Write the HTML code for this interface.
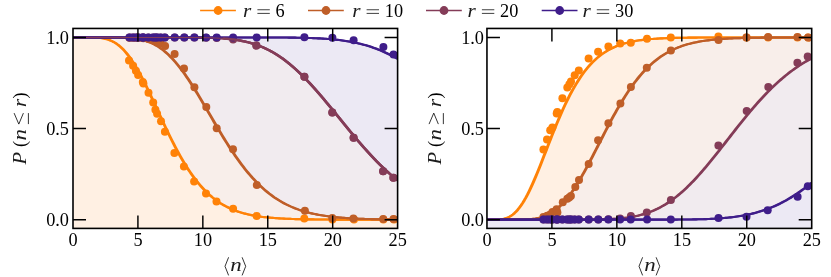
<!DOCTYPE html>
<html><head><meta charset="utf-8"><title>chart</title>
<style>
html,body{margin:0;padding:0;background:#fff;}
body{width:831px;height:277px;overflow:hidden;position:relative;}
svg{display:block;position:absolute;left:0;top:0;will-change:transform;}
.t{font-family:"Liberation Serif",serif;font-size:18.3px;fill:#000;}
.i{font-style:italic;fill:#1c1c1c;}
</style></head><body>
<svg width="831" height="277" viewBox="0 0 831 277">
<rect width="100%" height="100%" fill="#fff"/>
<defs>
<clipPath id="c0"><rect x="73.0" y="28.45" width="324.60" height="199.95"/></clipPath>
<clipPath id="c1"><rect x="486.95" y="28.45" width="324.75" height="199.95"/></clipPath>
</defs>
<g clip-path="url(#c0)">
<polygon fill="#ece9f4" points="73.00,37.45 74.62,37.45 76.25,37.45 77.87,37.45 79.49,37.45 81.11,37.45 82.74,37.45 84.36,37.45 85.98,37.45 87.61,37.45 89.23,37.45 90.85,37.45 92.48,37.45 94.10,37.45 95.72,37.45 97.34,37.45 98.97,37.45 100.59,37.45 102.21,37.45 103.84,37.45 105.46,37.45 107.08,37.45 108.71,37.45 110.33,37.45 111.95,37.45 113.58,37.45 115.20,37.45 116.82,37.45 118.44,37.45 120.07,37.45 121.69,37.45 123.31,37.45 124.94,37.45 126.56,37.45 128.18,37.45 129.81,37.45 131.43,37.45 133.05,37.45 134.67,37.45 136.30,37.45 137.92,37.45 139.54,37.45 141.17,37.45 142.79,37.45 144.41,37.45 146.04,37.45 147.66,37.45 149.28,37.45 150.90,37.45 152.53,37.45 154.15,37.45 155.77,37.45 157.40,37.45 159.02,37.45 160.64,37.45 162.26,37.45 163.89,37.45 165.51,37.45 167.13,37.45 168.76,37.45 170.38,37.45 172.00,37.45 173.63,37.45 175.25,37.45 176.87,37.45 178.50,37.45 180.12,37.45 181.74,37.45 183.36,37.45 184.99,37.45 186.61,37.45 188.23,37.45 189.86,37.45 191.48,37.45 193.10,37.45 194.72,37.45 196.35,37.45 197.97,37.45 199.59,37.45 201.22,37.45 202.84,37.45 204.46,37.45 206.09,37.45 207.71,37.45 209.33,37.45 210.96,37.45 212.58,37.45 214.20,37.45 215.82,37.45 217.45,37.45 219.07,37.45 220.69,37.45 222.32,37.45 223.94,37.45 225.56,37.45 227.19,37.45 228.81,37.45 230.43,37.45 232.05,37.45 233.68,37.45 235.30,37.45 236.92,37.45 238.55,37.45 240.17,37.45 241.79,37.45 243.41,37.45 245.04,37.45 246.66,37.45 248.28,37.45 249.91,37.45 251.53,37.46 253.15,37.46 254.78,37.46 256.40,37.46 258.02,37.46 259.64,37.46 261.27,37.46 262.89,37.47 264.51,37.47 266.14,37.47 267.76,37.47 269.38,37.48 271.01,37.48 272.63,37.49 274.25,37.49 275.88,37.50 277.50,37.51 279.12,37.51 280.74,37.52 282.37,37.53 283.99,37.54 285.61,37.56 287.24,37.57 288.86,37.58 290.48,37.60 292.11,37.62 293.73,37.64 295.35,37.66 296.97,37.69 298.60,37.72 300.22,37.75 301.84,37.78 303.47,37.82 305.09,37.86 306.71,37.90 308.34,37.95 309.96,38.00 311.58,38.06 313.20,38.12 314.83,38.18 316.45,38.25 318.07,38.33 319.70,38.42 321.32,38.51 322.94,38.60 324.56,38.71 326.19,38.82 327.81,38.94 329.43,39.07 331.06,39.21 332.68,39.36 334.30,39.52 335.93,39.69 337.55,39.87 339.17,40.06 340.80,40.26 342.42,40.48 344.04,40.71 345.66,40.95 347.29,41.21 348.91,41.48 350.53,41.76 352.16,42.07 353.78,42.39 355.40,42.72 357.03,43.07 358.65,43.44 360.27,43.83 361.89,44.24 363.52,44.67 365.14,45.11 366.76,45.58 368.39,46.07 370.01,46.58 371.63,47.11 373.26,47.66 374.88,48.24 376.50,48.84 378.12,49.46 379.75,50.10 381.37,50.77 382.99,51.46 384.62,52.18 386.24,52.92 387.86,53.69 389.49,54.48 391.11,55.30 392.73,56.14 394.35,57.01 395.98,57.91 397.60,58.83 397.6,230.4 73.0,230.4"/>
<polygon fill="#f1ebef" points="73.00,37.45 74.62,37.45 76.25,37.45 77.87,37.45 79.49,37.45 81.11,37.45 82.74,37.45 84.36,37.45 85.98,37.45 87.61,37.45 89.23,37.45 90.85,37.45 92.48,37.45 94.10,37.45 95.72,37.45 97.34,37.45 98.97,37.45 100.59,37.45 102.21,37.45 103.84,37.45 105.46,37.45 107.08,37.45 108.71,37.45 110.33,37.45 111.95,37.45 113.58,37.45 115.20,37.45 116.82,37.45 118.44,37.45 120.07,37.45 121.69,37.45 123.31,37.45 124.94,37.45 126.56,37.45 128.18,37.45 129.81,37.45 131.43,37.45 133.05,37.45 134.67,37.45 136.30,37.45 137.92,37.45 139.54,37.45 141.17,37.45 142.79,37.45 144.41,37.45 146.04,37.45 147.66,37.45 149.28,37.45 150.90,37.45 152.53,37.45 154.15,37.45 155.77,37.45 157.40,37.45 159.02,37.45 160.64,37.45 162.26,37.45 163.89,37.45 165.51,37.45 167.13,37.45 168.76,37.45 170.38,37.45 172.00,37.46 173.63,37.46 175.25,37.46 176.87,37.46 178.50,37.46 180.12,37.47 181.74,37.47 183.36,37.47 184.99,37.48 186.61,37.48 188.23,37.49 189.86,37.50 191.48,37.51 193.10,37.52 194.72,37.54 196.35,37.55 197.97,37.57 199.59,37.59 201.22,37.62 202.84,37.64 204.46,37.67 206.09,37.71 207.71,37.75 209.33,37.80 210.96,37.85 212.58,37.91 214.20,37.97 215.82,38.04 217.45,38.12 219.07,38.21 220.69,38.31 222.32,38.42 223.94,38.55 225.56,38.68 227.19,38.83 228.81,38.99 230.43,39.16 232.05,39.35 233.68,39.56 235.30,39.79 236.92,40.03 238.55,40.29 240.17,40.58 241.79,40.89 243.41,41.22 245.04,41.57 246.66,41.95 248.28,42.35 249.91,42.79 251.53,43.25 253.15,43.74 254.78,44.26 256.40,44.81 258.02,45.39 259.64,46.00 261.27,46.65 262.89,47.34 264.51,48.06 266.14,48.81 267.76,49.60 269.38,50.43 271.01,51.30 272.63,52.20 274.25,53.14 275.88,54.12 277.50,55.14 279.12,56.20 280.74,57.30 282.37,58.44 283.99,59.62 285.61,60.83 287.24,62.09 288.86,63.38 290.48,64.71 292.11,66.08 293.73,67.49 295.35,68.93 296.97,70.41 298.60,71.93 300.22,73.48 301.84,75.06 303.47,76.68 305.09,78.33 306.71,80.00 308.34,81.71 309.96,83.45 311.58,85.21 313.20,87.00 314.83,88.81 316.45,90.64 318.07,92.50 319.70,94.38 321.32,96.27 322.94,98.19 324.56,100.11 326.19,102.06 327.81,104.01 329.43,105.98 331.06,107.95 332.68,109.94 334.30,111.92 335.93,113.92 337.55,115.92 339.17,117.91 340.80,119.91 342.42,121.91 344.04,123.90 345.66,125.89 347.29,127.88 348.91,129.85 350.53,131.82 352.16,133.78 353.78,135.72 355.40,137.66 357.03,139.58 358.65,141.48 360.27,143.37 361.89,145.24 363.52,147.09 365.14,148.93 366.76,150.74 368.39,152.53 370.01,154.30 371.63,156.05 373.26,157.77 374.88,159.47 376.50,161.15 378.12,162.80 379.75,164.42 381.37,166.01 382.99,167.58 384.62,169.13 386.24,170.64 387.86,172.13 389.49,173.58 391.11,175.01 392.73,176.41 394.35,177.78 395.98,179.12 397.60,180.44 397.6,230.4 73.0,230.4"/>
<polygon fill="#f8eeea" points="73.00,37.45 74.62,37.45 76.25,37.45 77.87,37.45 79.49,37.45 81.11,37.45 82.74,37.45 84.36,37.45 85.98,37.45 87.61,37.45 89.23,37.45 90.85,37.45 92.48,37.45 94.10,37.45 95.72,37.45 97.34,37.45 98.97,37.45 100.59,37.45 102.21,37.45 103.84,37.45 105.46,37.46 107.08,37.46 108.71,37.46 110.33,37.47 111.95,37.48 113.58,37.49 115.20,37.50 116.82,37.52 118.44,37.55 120.07,37.58 121.69,37.63 123.31,37.68 124.94,37.75 126.56,37.83 128.18,37.93 129.81,38.05 131.43,38.19 133.05,38.35 134.67,38.55 136.30,38.78 137.92,39.04 139.54,39.34 141.17,39.68 142.79,40.07 144.41,40.51 146.04,41.00 147.66,41.55 149.28,42.16 150.90,42.83 152.53,43.57 154.15,44.37 155.77,45.25 157.40,46.20 159.02,47.22 160.64,48.33 162.26,49.51 163.89,50.77 165.51,52.12 167.13,53.55 168.76,55.06 170.38,56.65 172.00,58.32 173.63,60.07 175.25,61.91 176.87,63.82 178.50,65.81 180.12,67.87 181.74,70.00 183.36,72.20 184.99,74.47 186.61,76.80 188.23,79.19 189.86,81.64 191.48,84.13 193.10,86.67 194.72,89.26 196.35,91.89 197.97,94.55 199.59,97.24 201.22,99.96 202.84,102.69 204.46,105.45 206.09,108.22 207.71,110.99 209.33,113.78 210.96,116.56 212.58,119.33 214.20,122.10 215.82,124.86 217.45,127.60 219.07,130.32 220.69,133.02 222.32,135.70 223.94,138.34 225.56,140.96 227.19,143.53 228.81,146.08 230.43,148.58 232.05,151.04 233.68,153.46 235.30,155.83 236.92,158.15 238.55,160.43 240.17,162.66 241.79,164.83 243.41,166.96 245.04,169.03 246.66,171.05 248.28,173.01 249.91,174.92 251.53,176.78 253.15,178.59 254.78,180.33 256.40,182.03 258.02,183.67 259.64,185.26 261.27,186.80 262.89,188.28 264.51,189.71 266.14,191.10 267.76,192.43 269.38,193.71 271.01,194.95 272.63,196.14 274.25,197.28 275.88,198.37 277.50,199.43 279.12,200.44 280.74,201.40 282.37,202.33 283.99,203.22 285.61,204.07 287.24,204.88 288.86,205.66 290.48,206.40 292.11,207.10 293.73,207.78 295.35,208.42 296.97,209.03 298.60,209.62 300.22,210.17 301.84,210.70 303.47,211.20 305.09,211.68 306.71,212.13 308.34,212.56 309.96,212.97 311.58,213.36 313.20,213.73 314.83,214.07 316.45,214.40 318.07,214.71 319.70,215.01 321.32,215.29 322.94,215.55 324.56,215.80 326.19,216.04 327.81,216.26 329.43,216.47 331.06,216.66 332.68,216.85 334.30,217.03 335.93,217.19 337.55,217.35 339.17,217.49 340.80,217.63 342.42,217.76 344.04,217.88 345.66,218.00 347.29,218.10 348.91,218.20 350.53,218.30 352.16,218.39 353.78,218.47 355.40,218.55 357.03,218.62 358.65,218.69 360.27,218.76 361.89,218.82 363.52,218.87 365.14,218.93 366.76,218.98 368.39,219.02 370.01,219.06 371.63,219.11 373.26,219.14 374.88,219.18 376.50,219.21 378.12,219.24 379.75,219.27 381.37,219.30 382.99,219.32 384.62,219.35 386.24,219.37 387.86,219.39 389.49,219.41 391.11,219.42 392.73,219.44 394.35,219.45 395.98,219.47 397.60,219.48 397.6,230.4 73.0,230.4"/>
<polygon fill="#fff0e3" points="73.00,37.45 74.62,37.45 76.25,37.45 77.87,37.45 79.49,37.45 81.11,37.45 82.74,37.45 84.36,37.45 85.98,37.46 87.61,37.46 89.23,37.47 90.85,37.49 92.48,37.52 94.10,37.57 95.72,37.64 97.34,37.73 98.97,37.86 100.59,38.03 102.21,38.26 103.84,38.54 105.46,38.88 107.08,39.31 108.71,39.82 110.33,40.43 111.95,41.14 113.58,41.96 115.20,42.90 116.82,43.97 118.44,45.17 120.07,46.50 121.69,47.97 123.31,49.58 124.94,51.34 126.56,53.23 128.18,55.27 129.81,57.45 131.43,59.77 133.05,62.21 134.67,64.79 136.30,67.48 137.92,70.29 139.54,73.21 141.17,76.23 142.79,79.34 144.41,82.53 146.04,85.79 147.66,89.12 149.28,92.50 150.90,95.93 152.53,99.40 154.15,102.89 155.77,106.39 157.40,109.91 159.02,113.43 160.64,116.94 162.26,120.43 163.89,123.90 165.51,127.34 167.13,130.74 168.76,134.09 170.38,137.40 172.00,140.65 173.63,143.85 175.25,146.98 176.87,150.04 178.50,153.03 180.12,155.95 181.74,158.79 183.36,161.55 184.99,164.24 186.61,166.84 188.23,169.36 189.86,171.79 191.48,174.15 193.10,176.42 194.72,178.60 196.35,180.71 197.97,182.73 199.59,184.67 201.22,186.54 202.84,188.32 204.46,190.03 206.09,191.67 207.71,193.23 209.33,194.72 210.96,196.14 212.58,197.49 214.20,198.78 215.82,200.01 217.45,201.17 219.07,202.28 220.69,203.33 222.32,204.32 223.94,205.26 225.56,206.15 227.19,206.99 228.81,207.79 230.43,208.54 232.05,209.25 233.68,209.92 235.30,210.55 236.92,211.14 238.55,211.70 240.17,212.23 241.79,212.72 243.41,213.19 245.04,213.62 246.66,214.03 248.28,214.41 249.91,214.77 251.53,215.11 253.15,215.43 254.78,215.72 256.40,216.00 258.02,216.25 259.64,216.49 261.27,216.72 262.89,216.93 264.51,217.13 266.14,217.31 267.76,217.48 269.38,217.64 271.01,217.78 272.63,217.92 274.25,218.05 275.88,218.17 277.50,218.28 279.12,218.38 280.74,218.48 282.37,218.57 283.99,218.65 285.61,218.72 287.24,218.79 288.86,218.86 290.48,218.92 292.11,218.98 293.73,219.03 295.35,219.08 296.97,219.12 298.60,219.16 300.22,219.20 301.84,219.24 303.47,219.27 305.09,219.30 306.71,219.33 308.34,219.35 309.96,219.38 311.58,219.40 313.20,219.42 314.83,219.44 316.45,219.46 318.07,219.47 319.70,219.49 321.32,219.50 322.94,219.51 324.56,219.52 326.19,219.53 327.81,219.54 329.43,219.55 331.06,219.56 332.68,219.57 334.30,219.57 335.93,219.58 337.55,219.59 339.17,219.59 340.80,219.60 342.42,219.60 344.04,219.61 345.66,219.61 347.29,219.61 348.91,219.62 350.53,219.62 352.16,219.62 353.78,219.62 355.40,219.63 357.03,219.63 358.65,219.63 360.27,219.63 361.89,219.63 363.52,219.63 365.14,219.64 366.76,219.64 368.39,219.64 370.01,219.64 371.63,219.64 373.26,219.64 374.88,219.64 376.50,219.64 378.12,219.64 379.75,219.64 381.37,219.64 382.99,219.64 384.62,219.65 386.24,219.65 387.86,219.65 389.49,219.65 391.11,219.65 392.73,219.65 394.35,219.65 395.98,219.65 397.60,219.65 397.6,230.4 73.0,230.4"/>
<g fill="none" stroke="#ff8207" stroke-width="2.1" stroke-linejoin="round"><polyline transform="translate(-0.45,0)" points="73.00,37.45 74.62,37.45 76.25,37.45 77.87,37.45 79.49,37.45 81.11,37.45 82.74,37.45 84.36,37.45 85.98,37.46 87.61,37.46 89.23,37.47 90.85,37.49 92.48,37.52 94.10,37.57 95.72,37.64 97.34,37.73 98.97,37.86 100.59,38.03 102.21,38.26 103.84,38.54 105.46,38.88 107.08,39.31 108.71,39.82 110.33,40.43 111.95,41.14 113.58,41.96 115.20,42.90 116.82,43.97 118.44,45.17 120.07,46.50 121.69,47.97 123.31,49.58 124.94,51.34 126.56,53.23 128.18,55.27 129.81,57.45 131.43,59.77 133.05,62.21 134.67,64.79 136.30,67.48 137.92,70.29 139.54,73.21 141.17,76.23 142.79,79.34 144.41,82.53 146.04,85.79 147.66,89.12 149.28,92.50 150.90,95.93 152.53,99.40 154.15,102.89 155.77,106.39 157.40,109.91 159.02,113.43 160.64,116.94 162.26,120.43 163.89,123.90 165.51,127.34 167.13,130.74 168.76,134.09 170.38,137.40 172.00,140.65 173.63,143.85 175.25,146.98 176.87,150.04 178.50,153.03 180.12,155.95 181.74,158.79 183.36,161.55 184.99,164.24 186.61,166.84 188.23,169.36 189.86,171.79 191.48,174.15 193.10,176.42 194.72,178.60 196.35,180.71 197.97,182.73 199.59,184.67 201.22,186.54 202.84,188.32 204.46,190.03 206.09,191.67 207.71,193.23 209.33,194.72 210.96,196.14 212.58,197.49 214.20,198.78 215.82,200.01 217.45,201.17 219.07,202.28 220.69,203.33 222.32,204.32 223.94,205.26 225.56,206.15 227.19,206.99 228.81,207.79 230.43,208.54 232.05,209.25 233.68,209.92 235.30,210.55 236.92,211.14 238.55,211.70 240.17,212.23 241.79,212.72 243.41,213.19 245.04,213.62 246.66,214.03 248.28,214.41 249.91,214.77 251.53,215.11 253.15,215.43 254.78,215.72 256.40,216.00 258.02,216.25 259.64,216.49 261.27,216.72 262.89,216.93 264.51,217.13 266.14,217.31 267.76,217.48 269.38,217.64 271.01,217.78 272.63,217.92 274.25,218.05 275.88,218.17 277.50,218.28 279.12,218.38 280.74,218.48 282.37,218.57 283.99,218.65 285.61,218.72 287.24,218.79 288.86,218.86 290.48,218.92 292.11,218.98 293.73,219.03 295.35,219.08 296.97,219.12 298.60,219.16 300.22,219.20 301.84,219.24 303.47,219.27 305.09,219.30 306.71,219.33 308.34,219.35 309.96,219.38 311.58,219.40 313.20,219.42 314.83,219.44 316.45,219.46 318.07,219.47 319.70,219.49 321.32,219.50 322.94,219.51 324.56,219.52 326.19,219.53 327.81,219.54 329.43,219.55 331.06,219.56 332.68,219.57 334.30,219.57 335.93,219.58 337.55,219.59 339.17,219.59 340.80,219.60 342.42,219.60 344.04,219.61 345.66,219.61 347.29,219.61 348.91,219.62 350.53,219.62 352.16,219.62 353.78,219.62 355.40,219.63 357.03,219.63 358.65,219.63 360.27,219.63 361.89,219.63 363.52,219.63 365.14,219.64 366.76,219.64 368.39,219.64 370.01,219.64 371.63,219.64 373.26,219.64 374.88,219.64 376.50,219.64 378.12,219.64 379.75,219.64 381.37,219.64 382.99,219.64 384.62,219.65 386.24,219.65 387.86,219.65 389.49,219.65 391.11,219.65 392.73,219.65 394.35,219.65 395.98,219.65 397.60,219.65"/><polyline transform="translate(0.45,0)" points="73.00,37.45 74.62,37.45 76.25,37.45 77.87,37.45 79.49,37.45 81.11,37.45 82.74,37.45 84.36,37.45 85.98,37.46 87.61,37.46 89.23,37.47 90.85,37.49 92.48,37.52 94.10,37.57 95.72,37.64 97.34,37.73 98.97,37.86 100.59,38.03 102.21,38.26 103.84,38.54 105.46,38.88 107.08,39.31 108.71,39.82 110.33,40.43 111.95,41.14 113.58,41.96 115.20,42.90 116.82,43.97 118.44,45.17 120.07,46.50 121.69,47.97 123.31,49.58 124.94,51.34 126.56,53.23 128.18,55.27 129.81,57.45 131.43,59.77 133.05,62.21 134.67,64.79 136.30,67.48 137.92,70.29 139.54,73.21 141.17,76.23 142.79,79.34 144.41,82.53 146.04,85.79 147.66,89.12 149.28,92.50 150.90,95.93 152.53,99.40 154.15,102.89 155.77,106.39 157.40,109.91 159.02,113.43 160.64,116.94 162.26,120.43 163.89,123.90 165.51,127.34 167.13,130.74 168.76,134.09 170.38,137.40 172.00,140.65 173.63,143.85 175.25,146.98 176.87,150.04 178.50,153.03 180.12,155.95 181.74,158.79 183.36,161.55 184.99,164.24 186.61,166.84 188.23,169.36 189.86,171.79 191.48,174.15 193.10,176.42 194.72,178.60 196.35,180.71 197.97,182.73 199.59,184.67 201.22,186.54 202.84,188.32 204.46,190.03 206.09,191.67 207.71,193.23 209.33,194.72 210.96,196.14 212.58,197.49 214.20,198.78 215.82,200.01 217.45,201.17 219.07,202.28 220.69,203.33 222.32,204.32 223.94,205.26 225.56,206.15 227.19,206.99 228.81,207.79 230.43,208.54 232.05,209.25 233.68,209.92 235.30,210.55 236.92,211.14 238.55,211.70 240.17,212.23 241.79,212.72 243.41,213.19 245.04,213.62 246.66,214.03 248.28,214.41 249.91,214.77 251.53,215.11 253.15,215.43 254.78,215.72 256.40,216.00 258.02,216.25 259.64,216.49 261.27,216.72 262.89,216.93 264.51,217.13 266.14,217.31 267.76,217.48 269.38,217.64 271.01,217.78 272.63,217.92 274.25,218.05 275.88,218.17 277.50,218.28 279.12,218.38 280.74,218.48 282.37,218.57 283.99,218.65 285.61,218.72 287.24,218.79 288.86,218.86 290.48,218.92 292.11,218.98 293.73,219.03 295.35,219.08 296.97,219.12 298.60,219.16 300.22,219.20 301.84,219.24 303.47,219.27 305.09,219.30 306.71,219.33 308.34,219.35 309.96,219.38 311.58,219.40 313.20,219.42 314.83,219.44 316.45,219.46 318.07,219.47 319.70,219.49 321.32,219.50 322.94,219.51 324.56,219.52 326.19,219.53 327.81,219.54 329.43,219.55 331.06,219.56 332.68,219.57 334.30,219.57 335.93,219.58 337.55,219.59 339.17,219.59 340.80,219.60 342.42,219.60 344.04,219.61 345.66,219.61 347.29,219.61 348.91,219.62 350.53,219.62 352.16,219.62 353.78,219.62 355.40,219.63 357.03,219.63 358.65,219.63 360.27,219.63 361.89,219.63 363.52,219.63 365.14,219.64 366.76,219.64 368.39,219.64 370.01,219.64 371.63,219.64 373.26,219.64 374.88,219.64 376.50,219.64 378.12,219.64 379.75,219.64 381.37,219.64 382.99,219.64 384.62,219.65 386.24,219.65 387.86,219.65 389.49,219.65 391.11,219.65 392.73,219.65 394.35,219.65 395.98,219.65 397.60,219.65"/></g>
<g fill="#ff8207"><circle cx="129.0" cy="60.4" r="4.0"/><circle cx="133.1" cy="65.7" r="4.0"/><circle cx="135.9" cy="70.7" r="4.0"/><circle cx="138.1" cy="75.1" r="4.0"/><circle cx="142.8" cy="81.9" r="4.0"/><circle cx="148.5" cy="92.7" r="4.0"/><circle cx="153.2" cy="102.4" r="4.0"/><circle cx="155.4" cy="109.8" r="4.0"/><circle cx="157.1" cy="113.7" r="4.0"/><circle cx="161.0" cy="121.3" r="4.0"/><circle cx="164.9" cy="131.7" r="4.0"/><circle cx="174.4" cy="153.0" r="4.0"/><circle cx="183.9" cy="166.6" r="4.0"/><circle cx="194.1" cy="181.6" r="4.0"/><circle cx="206.0" cy="193.6" r="4.0"/><circle cx="216.5" cy="201.5" r="4.0"/><circle cx="233.1" cy="208.7" r="4.0"/><circle cx="256.7" cy="216.0" r="4.0"/><circle cx="304.3" cy="218.4" r="4.0"/><circle cx="332.4" cy="219.6" r="4.0"/><circle cx="354.0" cy="219.6" r="4.0"/><circle cx="383.4" cy="219.6" r="4.0"/><circle cx="394.0" cy="219.6" r="4.0"/><circle cx="143.4" cy="83.6" r="4.0"/></g>
<g fill="none" stroke="#bf5e28" stroke-width="2.1" stroke-linejoin="round"><polyline transform="translate(-0.45,0)" points="73.00,37.45 74.62,37.45 76.25,37.45 77.87,37.45 79.49,37.45 81.11,37.45 82.74,37.45 84.36,37.45 85.98,37.45 87.61,37.45 89.23,37.45 90.85,37.45 92.48,37.45 94.10,37.45 95.72,37.45 97.34,37.45 98.97,37.45 100.59,37.45 102.21,37.45 103.84,37.45 105.46,37.46 107.08,37.46 108.71,37.46 110.33,37.47 111.95,37.48 113.58,37.49 115.20,37.50 116.82,37.52 118.44,37.55 120.07,37.58 121.69,37.63 123.31,37.68 124.94,37.75 126.56,37.83 128.18,37.93 129.81,38.05 131.43,38.19 133.05,38.35 134.67,38.55 136.30,38.78 137.92,39.04 139.54,39.34 141.17,39.68 142.79,40.07 144.41,40.51 146.04,41.00 147.66,41.55 149.28,42.16 150.90,42.83 152.53,43.57 154.15,44.37 155.77,45.25 157.40,46.20 159.02,47.22 160.64,48.33 162.26,49.51 163.89,50.77 165.51,52.12 167.13,53.55 168.76,55.06 170.38,56.65 172.00,58.32 173.63,60.07 175.25,61.91 176.87,63.82 178.50,65.81 180.12,67.87 181.74,70.00 183.36,72.20 184.99,74.47 186.61,76.80 188.23,79.19 189.86,81.64 191.48,84.13 193.10,86.67 194.72,89.26 196.35,91.89 197.97,94.55 199.59,97.24 201.22,99.96 202.84,102.69 204.46,105.45 206.09,108.22 207.71,110.99 209.33,113.78 210.96,116.56 212.58,119.33 214.20,122.10 215.82,124.86 217.45,127.60 219.07,130.32 220.69,133.02 222.32,135.70 223.94,138.34 225.56,140.96 227.19,143.53 228.81,146.08 230.43,148.58 232.05,151.04 233.68,153.46 235.30,155.83 236.92,158.15 238.55,160.43 240.17,162.66 241.79,164.83 243.41,166.96 245.04,169.03 246.66,171.05 248.28,173.01 249.91,174.92 251.53,176.78 253.15,178.59 254.78,180.33 256.40,182.03 258.02,183.67 259.64,185.26 261.27,186.80 262.89,188.28 264.51,189.71 266.14,191.10 267.76,192.43 269.38,193.71 271.01,194.95 272.63,196.14 274.25,197.28 275.88,198.37 277.50,199.43 279.12,200.44 280.74,201.40 282.37,202.33 283.99,203.22 285.61,204.07 287.24,204.88 288.86,205.66 290.48,206.40 292.11,207.10 293.73,207.78 295.35,208.42 296.97,209.03 298.60,209.62 300.22,210.17 301.84,210.70 303.47,211.20 305.09,211.68 306.71,212.13 308.34,212.56 309.96,212.97 311.58,213.36 313.20,213.73 314.83,214.07 316.45,214.40 318.07,214.71 319.70,215.01 321.32,215.29 322.94,215.55 324.56,215.80 326.19,216.04 327.81,216.26 329.43,216.47 331.06,216.66 332.68,216.85 334.30,217.03 335.93,217.19 337.55,217.35 339.17,217.49 340.80,217.63 342.42,217.76 344.04,217.88 345.66,218.00 347.29,218.10 348.91,218.20 350.53,218.30 352.16,218.39 353.78,218.47 355.40,218.55 357.03,218.62 358.65,218.69 360.27,218.76 361.89,218.82 363.52,218.87 365.14,218.93 366.76,218.98 368.39,219.02 370.01,219.06 371.63,219.11 373.26,219.14 374.88,219.18 376.50,219.21 378.12,219.24 379.75,219.27 381.37,219.30 382.99,219.32 384.62,219.35 386.24,219.37 387.86,219.39 389.49,219.41 391.11,219.42 392.73,219.44 394.35,219.45 395.98,219.47 397.60,219.48"/><polyline transform="translate(0.45,0)" points="73.00,37.45 74.62,37.45 76.25,37.45 77.87,37.45 79.49,37.45 81.11,37.45 82.74,37.45 84.36,37.45 85.98,37.45 87.61,37.45 89.23,37.45 90.85,37.45 92.48,37.45 94.10,37.45 95.72,37.45 97.34,37.45 98.97,37.45 100.59,37.45 102.21,37.45 103.84,37.45 105.46,37.46 107.08,37.46 108.71,37.46 110.33,37.47 111.95,37.48 113.58,37.49 115.20,37.50 116.82,37.52 118.44,37.55 120.07,37.58 121.69,37.63 123.31,37.68 124.94,37.75 126.56,37.83 128.18,37.93 129.81,38.05 131.43,38.19 133.05,38.35 134.67,38.55 136.30,38.78 137.92,39.04 139.54,39.34 141.17,39.68 142.79,40.07 144.41,40.51 146.04,41.00 147.66,41.55 149.28,42.16 150.90,42.83 152.53,43.57 154.15,44.37 155.77,45.25 157.40,46.20 159.02,47.22 160.64,48.33 162.26,49.51 163.89,50.77 165.51,52.12 167.13,53.55 168.76,55.06 170.38,56.65 172.00,58.32 173.63,60.07 175.25,61.91 176.87,63.82 178.50,65.81 180.12,67.87 181.74,70.00 183.36,72.20 184.99,74.47 186.61,76.80 188.23,79.19 189.86,81.64 191.48,84.13 193.10,86.67 194.72,89.26 196.35,91.89 197.97,94.55 199.59,97.24 201.22,99.96 202.84,102.69 204.46,105.45 206.09,108.22 207.71,110.99 209.33,113.78 210.96,116.56 212.58,119.33 214.20,122.10 215.82,124.86 217.45,127.60 219.07,130.32 220.69,133.02 222.32,135.70 223.94,138.34 225.56,140.96 227.19,143.53 228.81,146.08 230.43,148.58 232.05,151.04 233.68,153.46 235.30,155.83 236.92,158.15 238.55,160.43 240.17,162.66 241.79,164.83 243.41,166.96 245.04,169.03 246.66,171.05 248.28,173.01 249.91,174.92 251.53,176.78 253.15,178.59 254.78,180.33 256.40,182.03 258.02,183.67 259.64,185.26 261.27,186.80 262.89,188.28 264.51,189.71 266.14,191.10 267.76,192.43 269.38,193.71 271.01,194.95 272.63,196.14 274.25,197.28 275.88,198.37 277.50,199.43 279.12,200.44 280.74,201.40 282.37,202.33 283.99,203.22 285.61,204.07 287.24,204.88 288.86,205.66 290.48,206.40 292.11,207.10 293.73,207.78 295.35,208.42 296.97,209.03 298.60,209.62 300.22,210.17 301.84,210.70 303.47,211.20 305.09,211.68 306.71,212.13 308.34,212.56 309.96,212.97 311.58,213.36 313.20,213.73 314.83,214.07 316.45,214.40 318.07,214.71 319.70,215.01 321.32,215.29 322.94,215.55 324.56,215.80 326.19,216.04 327.81,216.26 329.43,216.47 331.06,216.66 332.68,216.85 334.30,217.03 335.93,217.19 337.55,217.35 339.17,217.49 340.80,217.63 342.42,217.76 344.04,217.88 345.66,218.00 347.29,218.10 348.91,218.20 350.53,218.30 352.16,218.39 353.78,218.47 355.40,218.55 357.03,218.62 358.65,218.69 360.27,218.76 361.89,218.82 363.52,218.87 365.14,218.93 366.76,218.98 368.39,219.02 370.01,219.06 371.63,219.11 373.26,219.14 374.88,219.18 376.50,219.21 378.12,219.24 379.75,219.27 381.37,219.30 382.99,219.32 384.62,219.35 386.24,219.37 387.86,219.39 389.49,219.41 391.11,219.42 392.73,219.44 394.35,219.45 395.98,219.47 397.60,219.48"/></g>
<g fill="#bf5e28"><circle cx="129.5" cy="37.8" r="4.0"/><circle cx="133.1" cy="37.8" r="4.0"/><circle cx="136.2" cy="37.8" r="4.0"/><circle cx="138.4" cy="37.7" r="4.0"/><circle cx="142.7" cy="38.1" r="4.0"/><circle cx="148.4" cy="38.9" r="4.0"/><circle cx="153.1" cy="40.2" r="4.0"/><circle cx="155.4" cy="41.1" r="4.0"/><circle cx="157.1" cy="41.7" r="4.0"/><circle cx="160.6" cy="43.4" r="4.0"/><circle cx="165.1" cy="45.9" r="4.0"/><circle cx="174.6" cy="53.9" r="4.0"/><circle cx="184.0" cy="68.4" r="4.0"/><circle cx="194.4" cy="87.2" r="4.0"/><circle cx="206.3" cy="106.9" r="4.0"/><circle cx="216.7" cy="128.2" r="4.0"/><circle cx="233.0" cy="149.2" r="4.0"/><circle cx="256.8" cy="185.1" r="4.0"/><circle cx="304.9" cy="210.8" r="4.0"/><circle cx="332.3" cy="217.9" r="4.0"/><circle cx="353.4" cy="218.4" r="4.0"/><circle cx="383.2" cy="219.0" r="4.0"/><circle cx="393.5" cy="219.0" r="4.0"/><circle cx="143.4" cy="38.2" r="4.0"/></g>
<g fill="none" stroke="#843c58" stroke-width="2.1" stroke-linejoin="round"><polyline transform="translate(-0.45,0)" points="73.00,37.45 74.62,37.45 76.25,37.45 77.87,37.45 79.49,37.45 81.11,37.45 82.74,37.45 84.36,37.45 85.98,37.45 87.61,37.45 89.23,37.45 90.85,37.45 92.48,37.45 94.10,37.45 95.72,37.45 97.34,37.45 98.97,37.45 100.59,37.45 102.21,37.45 103.84,37.45 105.46,37.45 107.08,37.45 108.71,37.45 110.33,37.45 111.95,37.45 113.58,37.45 115.20,37.45 116.82,37.45 118.44,37.45 120.07,37.45 121.69,37.45 123.31,37.45 124.94,37.45 126.56,37.45 128.18,37.45 129.81,37.45 131.43,37.45 133.05,37.45 134.67,37.45 136.30,37.45 137.92,37.45 139.54,37.45 141.17,37.45 142.79,37.45 144.41,37.45 146.04,37.45 147.66,37.45 149.28,37.45 150.90,37.45 152.53,37.45 154.15,37.45 155.77,37.45 157.40,37.45 159.02,37.45 160.64,37.45 162.26,37.45 163.89,37.45 165.51,37.45 167.13,37.45 168.76,37.45 170.38,37.45 172.00,37.46 173.63,37.46 175.25,37.46 176.87,37.46 178.50,37.46 180.12,37.47 181.74,37.47 183.36,37.47 184.99,37.48 186.61,37.48 188.23,37.49 189.86,37.50 191.48,37.51 193.10,37.52 194.72,37.54 196.35,37.55 197.97,37.57 199.59,37.59 201.22,37.62 202.84,37.64 204.46,37.67 206.09,37.71 207.71,37.75 209.33,37.80 210.96,37.85 212.58,37.91 214.20,37.97 215.82,38.04 217.45,38.12 219.07,38.21 220.69,38.31 222.32,38.42 223.94,38.55 225.56,38.68 227.19,38.83 228.81,38.99 230.43,39.16 232.05,39.35 233.68,39.56 235.30,39.79 236.92,40.03 238.55,40.29 240.17,40.58 241.79,40.89 243.41,41.22 245.04,41.57 246.66,41.95 248.28,42.35 249.91,42.79 251.53,43.25 253.15,43.74 254.78,44.26 256.40,44.81 258.02,45.39 259.64,46.00 261.27,46.65 262.89,47.34 264.51,48.06 266.14,48.81 267.76,49.60 269.38,50.43 271.01,51.30 272.63,52.20 274.25,53.14 275.88,54.12 277.50,55.14 279.12,56.20 280.74,57.30 282.37,58.44 283.99,59.62 285.61,60.83 287.24,62.09 288.86,63.38 290.48,64.71 292.11,66.08 293.73,67.49 295.35,68.93 296.97,70.41 298.60,71.93 300.22,73.48 301.84,75.06 303.47,76.68 305.09,78.33 306.71,80.00 308.34,81.71 309.96,83.45 311.58,85.21 313.20,87.00 314.83,88.81 316.45,90.64 318.07,92.50 319.70,94.38 321.32,96.27 322.94,98.19 324.56,100.11 326.19,102.06 327.81,104.01 329.43,105.98 331.06,107.95 332.68,109.94 334.30,111.92 335.93,113.92 337.55,115.92 339.17,117.91 340.80,119.91 342.42,121.91 344.04,123.90 345.66,125.89 347.29,127.88 348.91,129.85 350.53,131.82 352.16,133.78 353.78,135.72 355.40,137.66 357.03,139.58 358.65,141.48 360.27,143.37 361.89,145.24 363.52,147.09 365.14,148.93 366.76,150.74 368.39,152.53 370.01,154.30 371.63,156.05 373.26,157.77 374.88,159.47 376.50,161.15 378.12,162.80 379.75,164.42 381.37,166.01 382.99,167.58 384.62,169.13 386.24,170.64 387.86,172.13 389.49,173.58 391.11,175.01 392.73,176.41 394.35,177.78 395.98,179.12 397.60,180.44"/><polyline transform="translate(0.45,0)" points="73.00,37.45 74.62,37.45 76.25,37.45 77.87,37.45 79.49,37.45 81.11,37.45 82.74,37.45 84.36,37.45 85.98,37.45 87.61,37.45 89.23,37.45 90.85,37.45 92.48,37.45 94.10,37.45 95.72,37.45 97.34,37.45 98.97,37.45 100.59,37.45 102.21,37.45 103.84,37.45 105.46,37.45 107.08,37.45 108.71,37.45 110.33,37.45 111.95,37.45 113.58,37.45 115.20,37.45 116.82,37.45 118.44,37.45 120.07,37.45 121.69,37.45 123.31,37.45 124.94,37.45 126.56,37.45 128.18,37.45 129.81,37.45 131.43,37.45 133.05,37.45 134.67,37.45 136.30,37.45 137.92,37.45 139.54,37.45 141.17,37.45 142.79,37.45 144.41,37.45 146.04,37.45 147.66,37.45 149.28,37.45 150.90,37.45 152.53,37.45 154.15,37.45 155.77,37.45 157.40,37.45 159.02,37.45 160.64,37.45 162.26,37.45 163.89,37.45 165.51,37.45 167.13,37.45 168.76,37.45 170.38,37.45 172.00,37.46 173.63,37.46 175.25,37.46 176.87,37.46 178.50,37.46 180.12,37.47 181.74,37.47 183.36,37.47 184.99,37.48 186.61,37.48 188.23,37.49 189.86,37.50 191.48,37.51 193.10,37.52 194.72,37.54 196.35,37.55 197.97,37.57 199.59,37.59 201.22,37.62 202.84,37.64 204.46,37.67 206.09,37.71 207.71,37.75 209.33,37.80 210.96,37.85 212.58,37.91 214.20,37.97 215.82,38.04 217.45,38.12 219.07,38.21 220.69,38.31 222.32,38.42 223.94,38.55 225.56,38.68 227.19,38.83 228.81,38.99 230.43,39.16 232.05,39.35 233.68,39.56 235.30,39.79 236.92,40.03 238.55,40.29 240.17,40.58 241.79,40.89 243.41,41.22 245.04,41.57 246.66,41.95 248.28,42.35 249.91,42.79 251.53,43.25 253.15,43.74 254.78,44.26 256.40,44.81 258.02,45.39 259.64,46.00 261.27,46.65 262.89,47.34 264.51,48.06 266.14,48.81 267.76,49.60 269.38,50.43 271.01,51.30 272.63,52.20 274.25,53.14 275.88,54.12 277.50,55.14 279.12,56.20 280.74,57.30 282.37,58.44 283.99,59.62 285.61,60.83 287.24,62.09 288.86,63.38 290.48,64.71 292.11,66.08 293.73,67.49 295.35,68.93 296.97,70.41 298.60,71.93 300.22,73.48 301.84,75.06 303.47,76.68 305.09,78.33 306.71,80.00 308.34,81.71 309.96,83.45 311.58,85.21 313.20,87.00 314.83,88.81 316.45,90.64 318.07,92.50 319.70,94.38 321.32,96.27 322.94,98.19 324.56,100.11 326.19,102.06 327.81,104.01 329.43,105.98 331.06,107.95 332.68,109.94 334.30,111.92 335.93,113.92 337.55,115.92 339.17,117.91 340.80,119.91 342.42,121.91 344.04,123.90 345.66,125.89 347.29,127.88 348.91,129.85 350.53,131.82 352.16,133.78 353.78,135.72 355.40,137.66 357.03,139.58 358.65,141.48 360.27,143.37 361.89,145.24 363.52,147.09 365.14,148.93 366.76,150.74 368.39,152.53 370.01,154.30 371.63,156.05 373.26,157.77 374.88,159.47 376.50,161.15 378.12,162.80 379.75,164.42 381.37,166.01 382.99,167.58 384.62,169.13 386.24,170.64 387.86,172.13 389.49,173.58 391.11,175.01 392.73,176.41 394.35,177.78 395.98,179.12 397.60,180.44"/></g>
<g fill="#843c58"><circle cx="129.5" cy="37.5" r="4.0"/><circle cx="133.1" cy="37.5" r="4.0"/><circle cx="136.2" cy="37.5" r="4.0"/><circle cx="138.4" cy="37.5" r="4.0"/><circle cx="142.7" cy="37.5" r="4.0"/><circle cx="148.4" cy="37.5" r="4.0"/><circle cx="153.1" cy="37.5" r="4.0"/><circle cx="155.4" cy="37.5" r="4.0"/><circle cx="157.1" cy="37.5" r="4.0"/><circle cx="160.6" cy="37.5" r="4.0"/><circle cx="164.8" cy="37.5" r="4.0"/><circle cx="174.7" cy="37.5" r="4.0"/><circle cx="184.3" cy="37.5" r="4.0"/><circle cx="194.4" cy="37.5" r="4.0"/><circle cx="206.1" cy="37.7" r="4.0"/><circle cx="216.7" cy="38.1" r="4.0"/><circle cx="233.1" cy="39.5" r="4.0"/><circle cx="256.4" cy="45.5" r="4.0"/><circle cx="304.4" cy="76.8" r="4.0"/><circle cx="332.3" cy="112.5" r="4.0"/><circle cx="353.6" cy="137.7" r="4.0"/><circle cx="383.1" cy="171.2" r="4.0"/><circle cx="393.4" cy="177.7" r="4.0"/><circle cx="143.4" cy="37.5" r="4.0"/></g>
<g fill="none" stroke="#3f1d8a" stroke-width="2.1" stroke-linejoin="round"><polyline transform="translate(-0.45,0)" points="73.00,37.45 74.62,37.45 76.25,37.45 77.87,37.45 79.49,37.45 81.11,37.45 82.74,37.45 84.36,37.45 85.98,37.45 87.61,37.45 89.23,37.45 90.85,37.45 92.48,37.45 94.10,37.45 95.72,37.45 97.34,37.45 98.97,37.45 100.59,37.45 102.21,37.45 103.84,37.45 105.46,37.45 107.08,37.45 108.71,37.45 110.33,37.45 111.95,37.45 113.58,37.45 115.20,37.45 116.82,37.45 118.44,37.45 120.07,37.45 121.69,37.45 123.31,37.45 124.94,37.45 126.56,37.45 128.18,37.45 129.81,37.45 131.43,37.45 133.05,37.45 134.67,37.45 136.30,37.45 137.92,37.45 139.54,37.45 141.17,37.45 142.79,37.45 144.41,37.45 146.04,37.45 147.66,37.45 149.28,37.45 150.90,37.45 152.53,37.45 154.15,37.45 155.77,37.45 157.40,37.45 159.02,37.45 160.64,37.45 162.26,37.45 163.89,37.45 165.51,37.45 167.13,37.45 168.76,37.45 170.38,37.45 172.00,37.45 173.63,37.45 175.25,37.45 176.87,37.45 178.50,37.45 180.12,37.45 181.74,37.45 183.36,37.45 184.99,37.45 186.61,37.45 188.23,37.45 189.86,37.45 191.48,37.45 193.10,37.45 194.72,37.45 196.35,37.45 197.97,37.45 199.59,37.45 201.22,37.45 202.84,37.45 204.46,37.45 206.09,37.45 207.71,37.45 209.33,37.45 210.96,37.45 212.58,37.45 214.20,37.45 215.82,37.45 217.45,37.45 219.07,37.45 220.69,37.45 222.32,37.45 223.94,37.45 225.56,37.45 227.19,37.45 228.81,37.45 230.43,37.45 232.05,37.45 233.68,37.45 235.30,37.45 236.92,37.45 238.55,37.45 240.17,37.45 241.79,37.45 243.41,37.45 245.04,37.45 246.66,37.45 248.28,37.45 249.91,37.45 251.53,37.46 253.15,37.46 254.78,37.46 256.40,37.46 258.02,37.46 259.64,37.46 261.27,37.46 262.89,37.47 264.51,37.47 266.14,37.47 267.76,37.47 269.38,37.48 271.01,37.48 272.63,37.49 274.25,37.49 275.88,37.50 277.50,37.51 279.12,37.51 280.74,37.52 282.37,37.53 283.99,37.54 285.61,37.56 287.24,37.57 288.86,37.58 290.48,37.60 292.11,37.62 293.73,37.64 295.35,37.66 296.97,37.69 298.60,37.72 300.22,37.75 301.84,37.78 303.47,37.82 305.09,37.86 306.71,37.90 308.34,37.95 309.96,38.00 311.58,38.06 313.20,38.12 314.83,38.18 316.45,38.25 318.07,38.33 319.70,38.42 321.32,38.51 322.94,38.60 324.56,38.71 326.19,38.82 327.81,38.94 329.43,39.07 331.06,39.21 332.68,39.36 334.30,39.52 335.93,39.69 337.55,39.87 339.17,40.06 340.80,40.26 342.42,40.48 344.04,40.71 345.66,40.95 347.29,41.21 348.91,41.48 350.53,41.76 352.16,42.07 353.78,42.39 355.40,42.72 357.03,43.07 358.65,43.44 360.27,43.83 361.89,44.24 363.52,44.67 365.14,45.11 366.76,45.58 368.39,46.07 370.01,46.58 371.63,47.11 373.26,47.66 374.88,48.24 376.50,48.84 378.12,49.46 379.75,50.10 381.37,50.77 382.99,51.46 384.62,52.18 386.24,52.92 387.86,53.69 389.49,54.48 391.11,55.30 392.73,56.14 394.35,57.01 395.98,57.91 397.60,58.83"/><polyline transform="translate(0.45,0)" points="73.00,37.45 74.62,37.45 76.25,37.45 77.87,37.45 79.49,37.45 81.11,37.45 82.74,37.45 84.36,37.45 85.98,37.45 87.61,37.45 89.23,37.45 90.85,37.45 92.48,37.45 94.10,37.45 95.72,37.45 97.34,37.45 98.97,37.45 100.59,37.45 102.21,37.45 103.84,37.45 105.46,37.45 107.08,37.45 108.71,37.45 110.33,37.45 111.95,37.45 113.58,37.45 115.20,37.45 116.82,37.45 118.44,37.45 120.07,37.45 121.69,37.45 123.31,37.45 124.94,37.45 126.56,37.45 128.18,37.45 129.81,37.45 131.43,37.45 133.05,37.45 134.67,37.45 136.30,37.45 137.92,37.45 139.54,37.45 141.17,37.45 142.79,37.45 144.41,37.45 146.04,37.45 147.66,37.45 149.28,37.45 150.90,37.45 152.53,37.45 154.15,37.45 155.77,37.45 157.40,37.45 159.02,37.45 160.64,37.45 162.26,37.45 163.89,37.45 165.51,37.45 167.13,37.45 168.76,37.45 170.38,37.45 172.00,37.45 173.63,37.45 175.25,37.45 176.87,37.45 178.50,37.45 180.12,37.45 181.74,37.45 183.36,37.45 184.99,37.45 186.61,37.45 188.23,37.45 189.86,37.45 191.48,37.45 193.10,37.45 194.72,37.45 196.35,37.45 197.97,37.45 199.59,37.45 201.22,37.45 202.84,37.45 204.46,37.45 206.09,37.45 207.71,37.45 209.33,37.45 210.96,37.45 212.58,37.45 214.20,37.45 215.82,37.45 217.45,37.45 219.07,37.45 220.69,37.45 222.32,37.45 223.94,37.45 225.56,37.45 227.19,37.45 228.81,37.45 230.43,37.45 232.05,37.45 233.68,37.45 235.30,37.45 236.92,37.45 238.55,37.45 240.17,37.45 241.79,37.45 243.41,37.45 245.04,37.45 246.66,37.45 248.28,37.45 249.91,37.45 251.53,37.46 253.15,37.46 254.78,37.46 256.40,37.46 258.02,37.46 259.64,37.46 261.27,37.46 262.89,37.47 264.51,37.47 266.14,37.47 267.76,37.47 269.38,37.48 271.01,37.48 272.63,37.49 274.25,37.49 275.88,37.50 277.50,37.51 279.12,37.51 280.74,37.52 282.37,37.53 283.99,37.54 285.61,37.56 287.24,37.57 288.86,37.58 290.48,37.60 292.11,37.62 293.73,37.64 295.35,37.66 296.97,37.69 298.60,37.72 300.22,37.75 301.84,37.78 303.47,37.82 305.09,37.86 306.71,37.90 308.34,37.95 309.96,38.00 311.58,38.06 313.20,38.12 314.83,38.18 316.45,38.25 318.07,38.33 319.70,38.42 321.32,38.51 322.94,38.60 324.56,38.71 326.19,38.82 327.81,38.94 329.43,39.07 331.06,39.21 332.68,39.36 334.30,39.52 335.93,39.69 337.55,39.87 339.17,40.06 340.80,40.26 342.42,40.48 344.04,40.71 345.66,40.95 347.29,41.21 348.91,41.48 350.53,41.76 352.16,42.07 353.78,42.39 355.40,42.72 357.03,43.07 358.65,43.44 360.27,43.83 361.89,44.24 363.52,44.67 365.14,45.11 366.76,45.58 368.39,46.07 370.01,46.58 371.63,47.11 373.26,47.66 374.88,48.24 376.50,48.84 378.12,49.46 379.75,50.10 381.37,50.77 382.99,51.46 384.62,52.18 386.24,52.92 387.86,53.69 389.49,54.48 391.11,55.30 392.73,56.14 394.35,57.01 395.98,57.91 397.60,58.83"/></g>
<g fill="#3f1d8a"><circle cx="129.5" cy="37.5" r="4.0"/><circle cx="133.1" cy="37.5" r="4.0"/><circle cx="136.2" cy="37.5" r="4.0"/><circle cx="138.4" cy="37.5" r="4.0"/><circle cx="142.7" cy="37.5" r="4.0"/><circle cx="148.4" cy="37.5" r="4.0"/><circle cx="153.1" cy="37.5" r="4.0"/><circle cx="155.4" cy="37.5" r="4.0"/><circle cx="157.1" cy="37.5" r="4.0"/><circle cx="160.6" cy="37.5" r="4.0"/><circle cx="164.8" cy="37.5" r="4.0"/><circle cx="174.7" cy="37.5" r="4.0"/><circle cx="184.3" cy="37.5" r="4.0"/><circle cx="194.4" cy="37.5" r="4.0"/><circle cx="206.1" cy="37.5" r="4.0"/><circle cx="216.7" cy="37.5" r="4.0"/><circle cx="233.1" cy="37.5" r="4.0"/><circle cx="256.7" cy="37.5" r="4.0"/><circle cx="304.4" cy="37.2" r="4.0"/><circle cx="332.4" cy="37.8" r="4.0"/><circle cx="353.6" cy="40.2" r="4.0"/><circle cx="383.4" cy="47.0" r="4.0"/><circle cx="393.5" cy="54.4" r="4.0"/><circle cx="143.4" cy="37.5" r="4.0"/></g>
<polyline fill="none" stroke="#843c58" stroke-width="1.1" points="73.00,37.45 74.62,37.45 76.25,37.45 77.87,37.45 79.49,37.45 81.11,37.45 82.74,37.45 84.36,37.45 85.98,37.45 87.61,37.45 89.23,37.45 90.85,37.45 92.48,37.45 94.10,37.45 95.72,37.45 97.34,37.45 98.97,37.45 100.59,37.45 102.21,37.45 103.84,37.45 105.46,37.45 107.08,37.45 108.71,37.45 110.33,37.45 111.95,37.45 113.58,37.45 115.20,37.45 116.82,37.45 118.44,37.45 120.07,37.45 121.69,37.45 123.31,37.45 124.94,37.45 126.56,37.45 128.18,37.45 129.81,37.45 131.43,37.45 133.05,37.45 134.67,37.45 136.30,37.45 137.92,37.45 139.54,37.45 141.17,37.45 142.79,37.45 144.41,37.45 146.04,37.45 147.66,37.45 149.28,37.45 150.90,37.45 152.53,37.45 154.15,37.45 155.77,37.45 157.40,37.45 159.02,37.45 160.64,37.45 162.26,37.45 163.89,37.45 165.51,37.45 167.13,37.45 168.76,37.45 170.38,37.45 172.00,37.46 173.63,37.46 175.25,37.46 176.87,37.46 178.50,37.46 180.12,37.47 181.74,37.47 183.36,37.47 184.99,37.48 186.61,37.48 188.23,37.49 189.86,37.50 191.48,37.51 193.10,37.52 194.72,37.54 196.35,37.55 197.97,37.57 199.59,37.59 201.22,37.62 202.84,37.64 204.46,37.67 206.09,37.71 207.71,37.75 209.33,37.80 210.96,37.85 212.58,37.91 214.20,37.97 215.82,38.04 217.45,38.12 219.07,38.21 220.69,38.31 222.32,38.42 223.94,38.55 225.56,38.68 227.19,38.83 228.81,38.99 230.43,39.16 232.05,39.35 233.68,39.56 235.30,39.79 236.92,40.03 238.55,40.29 240.17,40.58 241.79,40.89 243.41,41.22 245.04,41.57 246.66,41.95 248.28,42.35 249.91,42.79 251.53,43.25 253.15,43.74 254.78,44.26 256.40,44.81 258.02,45.39 259.64,46.00 261.27,46.65 262.89,47.34 264.51,48.06 266.14,48.81 267.76,49.60 269.38,50.43 271.01,51.30 272.63,52.20 274.25,53.14 275.88,54.12 277.50,55.14 279.12,56.20 280.74,57.30 282.37,58.44 283.99,59.62 285.61,60.83 287.24,62.09 288.86,63.38 290.48,64.71 292.11,66.08 293.73,67.49 295.35,68.93 296.97,70.41 298.60,71.93 300.22,73.48 301.84,75.06 303.47,76.68 305.09,78.33 306.71,80.00 308.34,81.71 309.96,83.45 311.58,85.21 313.20,87.00 314.83,88.81 316.45,90.64 318.07,92.50 319.70,94.38 321.32,96.27 322.94,98.19 324.56,100.11 326.19,102.06 327.81,104.01 329.43,105.98 331.06,107.95 332.68,109.94 334.30,111.92 335.93,113.92 337.55,115.92 339.17,117.91 340.80,119.91 342.42,121.91 344.04,123.90 345.66,125.89 347.29,127.88 348.91,129.85 350.53,131.82 352.16,133.78 353.78,135.72 355.40,137.66 357.03,139.58 358.65,141.48 360.27,143.37 361.89,145.24 363.52,147.09 365.14,148.93 366.76,150.74 368.39,152.53 370.01,154.30 371.63,156.05 373.26,157.77 374.88,159.47 376.50,161.15 378.12,162.80 379.75,164.42 381.37,166.01 382.99,167.58 384.62,169.13 386.24,170.64 387.86,172.13 389.49,173.58 391.11,175.01 392.73,176.41 394.35,177.78 395.98,179.12 397.60,180.44"/>
<polyline fill="none" stroke="#843c58" stroke-width="2.5" stroke-linecap="round" points="223.9,38.5 225.6,38.7 227.2,38.8 228.8,39.0 230.4,39.2 232.1,39.4 233.7,39.6 235.3,39.8 236.9,40.0 238.5,40.3 240.2,40.6 241.8,40.9 243.4,41.2 245.0,41.6 246.7,41.9 248.3,42.4 249.9,42.8 251.5,43.2 253.2,43.7 254.8,44.3 256.4,44.8 258.0,45.4 259.6,46.0 261.3,46.7 262.9,47.3 264.5,48.1 266.1,48.8 267.8,49.6 269.4,50.4 271.0,51.3 272.6,52.2 274.3,53.1 275.9,54.1 277.5,55.1 279.1,56.2 280.7,57.3 282.4,58.4 284.0,59.6 285.6,60.8 287.2,62.1 288.9,63.4 290.5,64.7 292.1,66.1 293.7,67.5 295.4,68.9 297.0,70.4 298.6,71.9 300.2,73.5 301.8,75.1 303.5,76.7 305.1,78.3 306.7,80.0 308.3,81.7 310.0,83.4 311.6,85.2 313.2,87.0 314.8,88.8 316.4,90.6 318.1,92.5 319.7,94.4 321.3,96.3 322.9,98.2 324.6,100.1 326.2,102.1 327.8,104.0 329.4,106.0 331.1,108.0 332.7,109.9 334.3,111.9 335.9,113.9 337.5,115.9 339.2,117.9 340.8,119.9 342.4,121.9 344.0,123.9 345.7,125.9 347.3,127.9 348.9,129.9 350.5,131.8 352.2,133.8 353.8,135.7 355.4,137.7 357.0,139.6 358.6,141.5 360.3,143.4 361.9,145.2 363.5,147.1 365.1,148.9 366.8,150.7 368.4,152.5 370.0,154.3 371.6,156.0 373.3,157.8 374.9,159.5 376.5,161.1 378.1,162.8 379.7,164.4 381.4,166.0 383.0,167.6 384.6,169.1 386.2,170.6 387.9,172.1 389.5,173.6 391.1,175.0 392.7,176.4 394.4,177.8 396.0,179.1 397.6,180.4"/>
<g fill="#843c58"><circle cx="256.4" cy="45.5" r="4.0"/><circle cx="304.4" cy="76.8" r="4.0"/><circle cx="332.3" cy="112.5" r="4.0"/><circle cx="353.6" cy="137.7" r="4.0"/><circle cx="383.1" cy="171.2" r="4.0"/><circle cx="393.4" cy="177.7" r="4.0"/></g>
</g>
<path d="M137.92 228.4v-13.0M137.92 28.45v13.0M202.84 228.4v-13.0M202.84 28.45v13.0M267.76 228.4v-13.0M267.76 28.45v13.0M332.68 228.4v-13.0M332.68 28.45v13.0M73.0 219.65h13.0M397.6 219.65h-13.0M73.0 128.55h13.0M397.6 128.55h-13.0M73.0 37.45h13.0M397.6 37.45h-13.0" stroke="#000" stroke-width="1.45" fill="none"/>
<rect x="73.0" y="28.45" width="324.60" height="199.95" fill="none" stroke="#000" stroke-width="1.6"/>
<text class="t" x="73.10" y="245.6" text-anchor="middle">0</text>
<text class="t" x="138.02" y="245.6" text-anchor="middle">5</text>
<text class="t" x="202.94" y="245.6" text-anchor="middle">10</text>
<text class="t" x="267.86" y="245.6" text-anchor="middle">15</text>
<text class="t" x="332.78" y="245.6" text-anchor="middle">20</text>
<text class="t" x="397.70" y="245.6" text-anchor="middle">25</text>
<text class="t" x="69.0" y="225.70" text-anchor="end">0.0</text>
<text class="t" x="69.0" y="134.60" text-anchor="end">0.5</text>
<text class="t" x="69.0" y="43.50" text-anchor="end">1.0</text>
<path d="M228.60 257.3l-3.6 9 3.6 9.1M242.10 257.3l3.6 9 -3.6 9.1" stroke="#000" stroke-width="0.8" fill="none" stroke-linejoin="miter"/>
<text class="t i" font-size="16.8" transform="translate(230.30,270.7) scale(1.25,1)">n</text>
<g transform="translate(26.00,164.1) rotate(-90)"><text class="t i" font-size="19.6" transform="translate(-0.4,0) scale(1.13,1)">P</text><text class="t" font-size="18.6" x="17.2" y="0">(</text><text class="t i" font-size="16.8" transform="translate(23.5,0) scale(1.25,1)">n</text><path d="M51.0 -11.9L40.0 -7.2L51.0 -2.6M40.0 2.4H51.0" stroke="#000" stroke-width="0.8" fill="none"/><text class="t i" font-size="17.8" transform="translate(57.2,0) scale(1.16,1)">r</text><text class="t" font-size="18.6" x="65.7" y="0">)</text></g>
<g clip-path="url(#c1)">
<polygon fill="#fff0e3" points="486.95,219.65 488.57,219.65 490.20,219.65 491.82,219.65 493.44,219.64 495.07,219.62 496.69,219.59 498.32,219.52 499.94,219.40 501.56,219.22 503.19,218.95 504.81,218.57 506.44,218.08 508.06,217.44 509.68,216.63 511.31,215.65 512.93,214.48 514.55,213.10 516.18,211.52 517.80,209.71 519.42,207.69 521.05,205.45 522.67,203.00 524.30,200.34 525.92,197.47 527.54,194.42 529.17,191.18 530.79,187.78 532.41,184.23 534.04,180.54 535.66,176.74 537.29,172.83 538.91,168.83 540.53,164.77 542.16,160.65 543.78,156.49 545.40,152.32 547.03,148.13 548.65,143.96 550.28,139.81 551.90,135.69 553.52,131.62 555.15,127.61 556.77,123.66 558.39,119.79 560.02,116.00 561.64,112.29 563.27,108.69 564.89,105.18 566.51,101.78 568.14,98.49 569.76,95.30 571.38,92.23 573.01,89.27 574.63,86.43 576.26,83.70 577.88,81.08 579.50,78.57 581.13,76.18 582.75,73.89 584.38,71.71 586.00,69.63 587.62,67.66 589.25,65.79 590.87,64.01 592.49,62.32 594.12,60.73 595.74,59.22 597.37,57.80 598.99,56.45 600.61,55.19 602.24,53.99 603.86,52.87 605.48,51.82 607.11,50.83 608.73,49.90 610.36,49.02 611.98,48.21 613.60,47.44 615.23,46.73 616.85,46.06 618.47,45.43 620.10,44.85 621.72,44.31 623.35,43.80 624.97,43.33 626.59,42.89 628.22,42.48 629.84,42.10 631.46,41.74 633.09,41.41 634.71,41.11 636.34,40.83 637.96,40.56 639.58,40.32 641.21,40.09 642.83,39.89 644.45,39.69 646.08,39.51 647.70,39.35 649.33,39.20 650.95,39.06 652.57,38.93 654.20,38.81 655.82,38.70 657.44,38.59 659.07,38.50 660.69,38.41 662.32,38.33 663.94,38.26 665.56,38.19 667.19,38.13 668.81,38.07 670.43,38.02 672.06,37.97 673.68,37.93 675.31,37.89 676.93,37.85 678.55,37.82 680.18,37.78 681.80,37.76 683.42,37.73 685.05,37.71 686.67,37.68 688.30,37.66 689.92,37.64 691.54,37.63 693.17,37.61 694.79,37.60 696.41,37.58 698.04,37.57 699.66,37.56 701.29,37.55 702.91,37.54 704.53,37.53 706.16,37.53 707.78,37.52 709.40,37.51 711.03,37.51 712.65,37.50 714.28,37.50 715.90,37.49 717.52,37.49 719.15,37.49 720.77,37.48 722.39,37.48 724.02,37.48 725.64,37.47 727.26,37.47 728.89,37.47 730.51,37.47 732.14,37.47 733.76,37.47 735.38,37.46 737.01,37.46 738.63,37.46 740.25,37.46 741.88,37.46 743.50,37.46 745.13,37.46 746.75,37.46 748.37,37.46 750.00,37.46 751.62,37.46 753.25,37.45 754.87,37.45 756.49,37.45 758.12,37.45 759.74,37.45 761.36,37.45 762.99,37.45 764.61,37.45 766.24,37.45 767.86,37.45 769.48,37.45 771.11,37.45 772.73,37.45 774.35,37.45 775.98,37.45 777.60,37.45 779.23,37.45 780.85,37.45 782.47,37.45 784.10,37.45 785.72,37.45 787.34,37.45 788.97,37.45 790.59,37.45 792.22,37.45 793.84,37.45 795.46,37.45 797.09,37.45 798.71,37.45 800.33,37.45 801.96,37.45 803.58,37.45 805.21,37.45 806.83,37.45 808.45,37.45 810.08,37.45 811.70,37.45 811.7,230.4 486.95,230.4"/>
<polygon fill="#f8eeea" points="486.95,219.65 488.57,219.65 490.20,219.65 491.82,219.65 493.44,219.65 495.07,219.65 496.69,219.65 498.32,219.65 499.94,219.65 501.56,219.65 503.19,219.65 504.81,219.65 506.44,219.65 508.06,219.65 509.68,219.65 511.31,219.64 512.93,219.64 514.55,219.63 516.18,219.62 517.80,219.61 519.42,219.59 521.05,219.56 522.67,219.52 524.30,219.47 525.92,219.40 527.54,219.31 529.17,219.20 530.79,219.07 532.41,218.90 534.04,218.69 535.66,218.45 537.29,218.15 538.91,217.80 540.53,217.40 542.16,216.93 543.78,216.39 545.40,215.78 547.03,215.09 548.65,214.31 550.28,213.44 551.90,212.48 553.52,211.42 555.15,210.26 556.77,209.00 558.39,207.63 560.02,206.15 561.64,204.56 563.27,202.86 564.89,201.05 566.51,199.13 568.14,197.11 569.76,194.98 571.38,192.75 573.01,190.42 574.63,187.99 576.26,185.47 577.88,182.87 579.50,180.18 581.13,177.42 582.75,174.58 584.38,171.68 586.00,168.73 587.62,165.72 589.25,162.67 590.87,159.58 592.49,156.45 594.12,153.31 595.74,150.14 597.37,146.96 598.99,143.78 600.61,140.60 602.24,137.42 603.86,134.26 605.48,131.12 607.11,128.00 608.73,124.90 610.36,121.85 611.98,118.83 613.60,115.85 615.23,112.92 616.85,110.04 618.47,107.22 620.10,104.45 621.72,101.74 623.35,99.09 624.97,96.51 626.59,93.98 628.22,91.53 629.84,89.15 631.46,86.83 633.09,84.58 634.71,82.40 636.34,80.30 637.96,78.26 639.58,76.29 641.21,74.39 642.83,72.57 644.45,70.81 646.08,69.11 647.70,67.49 649.33,65.92 650.95,64.43 652.57,62.99 654.20,61.62 655.82,60.31 657.44,59.05 659.07,57.85 660.69,56.71 662.32,55.62 663.94,54.58 665.56,53.59 667.19,52.65 668.81,51.76 670.43,50.92 672.06,50.11 673.68,49.35 675.31,48.63 676.93,47.94 678.55,47.30 680.18,46.68 681.80,46.11 683.42,45.56 685.05,45.05 686.67,44.56 688.30,44.10 689.92,43.67 691.54,43.26 693.17,42.88 694.79,42.52 696.41,42.19 698.04,41.87 699.66,41.57 701.29,41.29 702.91,41.03 704.53,40.79 706.16,40.56 707.78,40.34 709.40,40.14 711.03,39.95 712.65,39.77 714.28,39.61 715.90,39.46 717.52,39.31 719.15,39.18 720.77,39.05 722.39,38.94 724.02,38.83 725.64,38.73 727.26,38.64 728.89,38.55 730.51,38.47 732.14,38.39 733.76,38.32 735.38,38.25 737.01,38.19 738.63,38.14 740.25,38.09 741.88,38.04 743.50,37.99 745.13,37.95 746.75,37.91 748.37,37.88 750.00,37.84 751.62,37.81 753.25,37.78 754.87,37.76 756.49,37.73 758.12,37.71 759.74,37.69 761.36,37.67 762.99,37.65 764.61,37.64 766.24,37.62 767.86,37.61 769.48,37.60 771.11,37.58 772.73,37.57 774.35,37.56 775.98,37.55 777.60,37.55 779.23,37.54 780.85,37.53 782.47,37.52 784.10,37.52 785.72,37.51 787.34,37.51 788.97,37.50 790.59,37.50 792.22,37.49 793.84,37.49 795.46,37.49 797.09,37.48 798.71,37.48 800.33,37.48 801.96,37.48 803.58,37.47 805.21,37.47 806.83,37.47 808.45,37.47 810.08,37.47 811.70,37.46 811.7,230.4 486.95,230.4"/>
<polygon fill="#f1ebef" points="486.95,219.65 488.57,219.65 490.20,219.65 491.82,219.65 493.44,219.65 495.07,219.65 496.69,219.65 498.32,219.65 499.94,219.65 501.56,219.65 503.19,219.65 504.81,219.65 506.44,219.65 508.06,219.65 509.68,219.65 511.31,219.65 512.93,219.65 514.55,219.65 516.18,219.65 517.80,219.65 519.42,219.65 521.05,219.65 522.67,219.65 524.30,219.65 525.92,219.65 527.54,219.65 529.17,219.65 530.79,219.65 532.41,219.65 534.04,219.65 535.66,219.65 537.29,219.65 538.91,219.65 540.53,219.65 542.16,219.65 543.78,219.65 545.40,219.65 547.03,219.65 548.65,219.65 550.28,219.65 551.90,219.65 553.52,219.65 555.15,219.65 556.77,219.65 558.39,219.65 560.02,219.65 561.64,219.65 563.27,219.65 564.89,219.65 566.51,219.65 568.14,219.65 569.76,219.65 571.38,219.64 573.01,219.64 574.63,219.64 576.26,219.64 577.88,219.63 579.50,219.63 581.13,219.63 582.75,219.62 584.38,219.61 586.00,219.61 587.62,219.60 589.25,219.58 590.87,219.57 592.49,219.55 594.12,219.54 595.74,219.51 597.37,219.49 598.99,219.46 600.61,219.42 602.24,219.38 603.86,219.34 605.48,219.29 607.11,219.23 608.73,219.17 610.36,219.09 611.98,219.01 613.60,218.92 615.23,218.82 616.85,218.70 618.47,218.57 620.10,218.43 621.72,218.27 623.35,218.10 624.97,217.91 626.59,217.71 628.22,217.48 629.84,217.23 631.46,216.97 633.09,216.68 634.71,216.36 636.34,216.02 637.96,215.65 639.58,215.26 641.21,214.83 642.83,214.38 644.45,213.90 646.08,213.38 647.70,212.83 649.33,212.24 650.95,211.62 652.57,210.96 654.20,210.27 655.82,209.53 657.44,208.76 659.07,207.94 660.69,207.09 662.32,206.19 663.94,205.26 665.56,204.28 667.19,203.25 668.81,202.19 670.43,201.08 672.06,199.93 673.68,198.73 675.31,197.49 676.93,196.21 678.55,194.89 680.18,193.52 681.80,192.11 683.42,190.66 685.05,189.17 686.67,187.64 688.30,186.08 689.92,184.47 691.54,182.83 693.17,181.15 694.79,179.43 696.41,177.69 698.04,175.91 699.66,174.09 701.29,172.25 702.91,170.39 704.53,168.49 706.16,166.57 707.78,164.63 709.40,162.67 711.03,160.68 712.65,158.68 714.28,156.67 715.90,154.63 717.52,152.59 719.15,150.53 720.77,148.47 722.39,146.40 724.02,144.32 725.64,142.24 727.26,140.15 728.89,138.07 730.51,135.99 732.14,133.91 733.76,131.83 735.38,129.76 737.01,127.70 738.63,125.65 740.25,123.61 741.88,121.59 743.50,119.58 745.13,117.58 746.75,115.60 748.37,113.63 750.00,111.69 751.62,109.77 753.25,107.87 754.87,105.99 756.49,104.13 758.12,102.30 759.74,100.49 761.36,98.71 762.99,96.96 764.61,95.23 766.24,93.53 767.86,91.86 769.48,90.22 771.11,88.61 772.73,87.03 774.35,85.48 775.98,83.96 777.60,82.47 779.23,81.02 780.85,79.59 782.47,78.20 784.10,76.83 785.72,75.50 787.34,74.20 788.97,72.94 790.59,71.70 792.22,70.49 793.84,69.32 795.46,68.17 797.09,67.06 798.71,65.98 800.33,64.92 801.96,63.90 803.58,62.91 805.21,61.94 806.83,61.00 808.45,60.09 810.08,59.21 811.70,58.36 811.7,230.4 486.95,230.4"/>
<polygon fill="#ece9f4" points="486.95,219.65 488.57,219.65 490.20,219.65 491.82,219.65 493.44,219.65 495.07,219.65 496.69,219.65 498.32,219.65 499.94,219.65 501.56,219.65 503.19,219.65 504.81,219.65 506.44,219.65 508.06,219.65 509.68,219.65 511.31,219.65 512.93,219.65 514.55,219.65 516.18,219.65 517.80,219.65 519.42,219.65 521.05,219.65 522.67,219.65 524.30,219.65 525.92,219.65 527.54,219.65 529.17,219.65 530.79,219.65 532.41,219.65 534.04,219.65 535.66,219.65 537.29,219.65 538.91,219.65 540.53,219.65 542.16,219.65 543.78,219.65 545.40,219.65 547.03,219.65 548.65,219.65 550.28,219.65 551.90,219.65 553.52,219.65 555.15,219.65 556.77,219.65 558.39,219.65 560.02,219.65 561.64,219.65 563.27,219.65 564.89,219.65 566.51,219.65 568.14,219.65 569.76,219.65 571.38,219.65 573.01,219.65 574.63,219.65 576.26,219.65 577.88,219.65 579.50,219.65 581.13,219.65 582.75,219.65 584.38,219.65 586.00,219.65 587.62,219.65 589.25,219.65 590.87,219.65 592.49,219.65 594.12,219.65 595.74,219.65 597.37,219.65 598.99,219.65 600.61,219.65 602.24,219.65 603.86,219.65 605.48,219.65 607.11,219.65 608.73,219.65 610.36,219.65 611.98,219.65 613.60,219.65 615.23,219.65 616.85,219.65 618.47,219.65 620.10,219.65 621.72,219.65 623.35,219.65 624.97,219.65 626.59,219.65 628.22,219.65 629.84,219.65 631.46,219.65 633.09,219.65 634.71,219.65 636.34,219.65 637.96,219.65 639.58,219.65 641.21,219.65 642.83,219.65 644.45,219.65 646.08,219.65 647.70,219.65 649.33,219.65 650.95,219.64 652.57,219.64 654.20,219.64 655.82,219.64 657.44,219.64 659.07,219.64 660.69,219.63 662.32,219.63 663.94,219.63 665.56,219.62 667.19,219.62 668.81,219.62 670.43,219.61 672.06,219.60 673.68,219.60 675.31,219.59 676.93,219.58 678.55,219.57 680.18,219.56 681.80,219.55 683.42,219.53 685.05,219.52 686.67,219.50 688.30,219.48 689.92,219.46 691.54,219.44 693.17,219.41 694.79,219.38 696.41,219.35 698.04,219.31 699.66,219.27 701.29,219.23 702.91,219.18 704.53,219.13 706.16,219.08 707.78,219.02 709.40,218.95 711.03,218.88 712.65,218.80 714.28,218.71 715.90,218.62 717.52,218.52 719.15,218.41 720.77,218.30 722.39,218.17 724.02,218.04 725.64,217.89 727.26,217.74 728.89,217.57 730.51,217.39 732.14,217.21 733.76,217.00 735.38,216.79 737.01,216.56 738.63,216.32 740.25,216.06 741.88,215.79 743.50,215.50 745.13,215.19 746.75,214.87 748.37,214.53 750.00,214.17 751.62,213.79 753.25,213.39 754.87,212.97 756.49,212.53 758.12,212.07 759.74,211.59 761.36,211.09 762.99,210.56 764.61,210.01 766.24,209.43 767.86,208.84 769.48,208.21 771.11,207.57 772.73,206.89 774.35,206.19 775.98,205.47 777.60,204.72 779.23,203.94 780.85,203.13 782.47,202.30 784.10,201.44 785.72,200.55 787.34,199.64 788.97,198.70 790.59,197.73 792.22,196.73 793.84,195.71 795.46,194.66 797.09,193.58 798.71,192.48 800.33,191.35 801.96,190.19 803.58,189.00 805.21,187.79 806.83,186.56 808.45,185.29 810.08,184.01 811.70,182.70 811.7,230.4 486.95,230.4"/>
<g fill="none" stroke="#ff8207" stroke-width="2.1" stroke-linejoin="round"><polyline transform="translate(-0.45,0)" points="486.95,219.65 488.57,219.65 490.20,219.65 491.82,219.65 493.44,219.64 495.07,219.62 496.69,219.59 498.32,219.52 499.94,219.40 501.56,219.22 503.19,218.95 504.81,218.57 506.44,218.08 508.06,217.44 509.68,216.63 511.31,215.65 512.93,214.48 514.55,213.10 516.18,211.52 517.80,209.71 519.42,207.69 521.05,205.45 522.67,203.00 524.30,200.34 525.92,197.47 527.54,194.42 529.17,191.18 530.79,187.78 532.41,184.23 534.04,180.54 535.66,176.74 537.29,172.83 538.91,168.83 540.53,164.77 542.16,160.65 543.78,156.49 545.40,152.32 547.03,148.13 548.65,143.96 550.28,139.81 551.90,135.69 553.52,131.62 555.15,127.61 556.77,123.66 558.39,119.79 560.02,116.00 561.64,112.29 563.27,108.69 564.89,105.18 566.51,101.78 568.14,98.49 569.76,95.30 571.38,92.23 573.01,89.27 574.63,86.43 576.26,83.70 577.88,81.08 579.50,78.57 581.13,76.18 582.75,73.89 584.38,71.71 586.00,69.63 587.62,67.66 589.25,65.79 590.87,64.01 592.49,62.32 594.12,60.73 595.74,59.22 597.37,57.80 598.99,56.45 600.61,55.19 602.24,53.99 603.86,52.87 605.48,51.82 607.11,50.83 608.73,49.90 610.36,49.02 611.98,48.21 613.60,47.44 615.23,46.73 616.85,46.06 618.47,45.43 620.10,44.85 621.72,44.31 623.35,43.80 624.97,43.33 626.59,42.89 628.22,42.48 629.84,42.10 631.46,41.74 633.09,41.41 634.71,41.11 636.34,40.83 637.96,40.56 639.58,40.32 641.21,40.09 642.83,39.89 644.45,39.69 646.08,39.51 647.70,39.35 649.33,39.20 650.95,39.06 652.57,38.93 654.20,38.81 655.82,38.70 657.44,38.59 659.07,38.50 660.69,38.41 662.32,38.33 663.94,38.26 665.56,38.19 667.19,38.13 668.81,38.07 670.43,38.02 672.06,37.97 673.68,37.93 675.31,37.89 676.93,37.85 678.55,37.82 680.18,37.78 681.80,37.76 683.42,37.73 685.05,37.71 686.67,37.68 688.30,37.66 689.92,37.64 691.54,37.63 693.17,37.61 694.79,37.60 696.41,37.58 698.04,37.57 699.66,37.56 701.29,37.55 702.91,37.54 704.53,37.53 706.16,37.53 707.78,37.52 709.40,37.51 711.03,37.51 712.65,37.50 714.28,37.50 715.90,37.49 717.52,37.49 719.15,37.49 720.77,37.48 722.39,37.48 724.02,37.48 725.64,37.47 727.26,37.47 728.89,37.47 730.51,37.47 732.14,37.47 733.76,37.47 735.38,37.46 737.01,37.46 738.63,37.46 740.25,37.46 741.88,37.46 743.50,37.46 745.13,37.46 746.75,37.46 748.37,37.46 750.00,37.46 751.62,37.46 753.25,37.45 754.87,37.45 756.49,37.45 758.12,37.45 759.74,37.45 761.36,37.45 762.99,37.45 764.61,37.45 766.24,37.45 767.86,37.45 769.48,37.45 771.11,37.45 772.73,37.45 774.35,37.45 775.98,37.45 777.60,37.45 779.23,37.45 780.85,37.45 782.47,37.45 784.10,37.45 785.72,37.45 787.34,37.45 788.97,37.45 790.59,37.45 792.22,37.45 793.84,37.45 795.46,37.45 797.09,37.45 798.71,37.45 800.33,37.45 801.96,37.45 803.58,37.45 805.21,37.45 806.83,37.45 808.45,37.45 810.08,37.45 811.70,37.45"/><polyline transform="translate(0.45,0)" points="486.95,219.65 488.57,219.65 490.20,219.65 491.82,219.65 493.44,219.64 495.07,219.62 496.69,219.59 498.32,219.52 499.94,219.40 501.56,219.22 503.19,218.95 504.81,218.57 506.44,218.08 508.06,217.44 509.68,216.63 511.31,215.65 512.93,214.48 514.55,213.10 516.18,211.52 517.80,209.71 519.42,207.69 521.05,205.45 522.67,203.00 524.30,200.34 525.92,197.47 527.54,194.42 529.17,191.18 530.79,187.78 532.41,184.23 534.04,180.54 535.66,176.74 537.29,172.83 538.91,168.83 540.53,164.77 542.16,160.65 543.78,156.49 545.40,152.32 547.03,148.13 548.65,143.96 550.28,139.81 551.90,135.69 553.52,131.62 555.15,127.61 556.77,123.66 558.39,119.79 560.02,116.00 561.64,112.29 563.27,108.69 564.89,105.18 566.51,101.78 568.14,98.49 569.76,95.30 571.38,92.23 573.01,89.27 574.63,86.43 576.26,83.70 577.88,81.08 579.50,78.57 581.13,76.18 582.75,73.89 584.38,71.71 586.00,69.63 587.62,67.66 589.25,65.79 590.87,64.01 592.49,62.32 594.12,60.73 595.74,59.22 597.37,57.80 598.99,56.45 600.61,55.19 602.24,53.99 603.86,52.87 605.48,51.82 607.11,50.83 608.73,49.90 610.36,49.02 611.98,48.21 613.60,47.44 615.23,46.73 616.85,46.06 618.47,45.43 620.10,44.85 621.72,44.31 623.35,43.80 624.97,43.33 626.59,42.89 628.22,42.48 629.84,42.10 631.46,41.74 633.09,41.41 634.71,41.11 636.34,40.83 637.96,40.56 639.58,40.32 641.21,40.09 642.83,39.89 644.45,39.69 646.08,39.51 647.70,39.35 649.33,39.20 650.95,39.06 652.57,38.93 654.20,38.81 655.82,38.70 657.44,38.59 659.07,38.50 660.69,38.41 662.32,38.33 663.94,38.26 665.56,38.19 667.19,38.13 668.81,38.07 670.43,38.02 672.06,37.97 673.68,37.93 675.31,37.89 676.93,37.85 678.55,37.82 680.18,37.78 681.80,37.76 683.42,37.73 685.05,37.71 686.67,37.68 688.30,37.66 689.92,37.64 691.54,37.63 693.17,37.61 694.79,37.60 696.41,37.58 698.04,37.57 699.66,37.56 701.29,37.55 702.91,37.54 704.53,37.53 706.16,37.53 707.78,37.52 709.40,37.51 711.03,37.51 712.65,37.50 714.28,37.50 715.90,37.49 717.52,37.49 719.15,37.49 720.77,37.48 722.39,37.48 724.02,37.48 725.64,37.47 727.26,37.47 728.89,37.47 730.51,37.47 732.14,37.47 733.76,37.47 735.38,37.46 737.01,37.46 738.63,37.46 740.25,37.46 741.88,37.46 743.50,37.46 745.13,37.46 746.75,37.46 748.37,37.46 750.00,37.46 751.62,37.46 753.25,37.45 754.87,37.45 756.49,37.45 758.12,37.45 759.74,37.45 761.36,37.45 762.99,37.45 764.61,37.45 766.24,37.45 767.86,37.45 769.48,37.45 771.11,37.45 772.73,37.45 774.35,37.45 775.98,37.45 777.60,37.45 779.23,37.45 780.85,37.45 782.47,37.45 784.10,37.45 785.72,37.45 787.34,37.45 788.97,37.45 790.59,37.45 792.22,37.45 793.84,37.45 795.46,37.45 797.09,37.45 798.71,37.45 800.33,37.45 801.96,37.45 803.58,37.45 805.21,37.45 806.83,37.45 808.45,37.45 810.08,37.45 811.70,37.45"/></g>
<g fill="#ff8207"><circle cx="543.4" cy="149.6" r="4.0"/><circle cx="547.0" cy="139.5" r="4.0"/><circle cx="550.2" cy="130.2" r="4.0"/><circle cx="552.4" cy="127.5" r="4.0"/><circle cx="556.7" cy="113.5" r="4.0"/><circle cx="562.4" cy="98.3" r="4.0"/><circle cx="567.3" cy="87.5" r="4.0"/><circle cx="569.4" cy="84.2" r="4.0"/><circle cx="571.0" cy="81.4" r="4.0"/><circle cx="574.7" cy="75.2" r="4.0"/><circle cx="578.8" cy="70.6" r="4.0"/><circle cx="588.6" cy="58.6" r="4.0"/><circle cx="598.1" cy="51.8" r="4.0"/><circle cx="608.4" cy="46.5" r="4.0"/><circle cx="620.2" cy="43.6" r="4.0"/><circle cx="630.8" cy="42.8" r="4.0"/><circle cx="647.0" cy="38.8" r="4.0"/><circle cx="670.8" cy="37.4" r="4.0"/><circle cx="718.4" cy="36.5" r="4.0"/><circle cx="746.5" cy="37.5" r="4.0"/><circle cx="768.1" cy="37.5" r="4.0"/><circle cx="797.5" cy="37.5" r="4.0"/><circle cx="808.1" cy="37.5" r="4.0"/><circle cx="557.3" cy="112.0" r="4.0"/></g>
<g fill="none" stroke="#bf5e28" stroke-width="2.1" stroke-linejoin="round"><polyline transform="translate(-0.45,0)" points="486.95,219.65 488.57,219.65 490.20,219.65 491.82,219.65 493.44,219.65 495.07,219.65 496.69,219.65 498.32,219.65 499.94,219.65 501.56,219.65 503.19,219.65 504.81,219.65 506.44,219.65 508.06,219.65 509.68,219.65 511.31,219.64 512.93,219.64 514.55,219.63 516.18,219.62 517.80,219.61 519.42,219.59 521.05,219.56 522.67,219.52 524.30,219.47 525.92,219.40 527.54,219.31 529.17,219.20 530.79,219.07 532.41,218.90 534.04,218.69 535.66,218.45 537.29,218.15 538.91,217.80 540.53,217.40 542.16,216.93 543.78,216.39 545.40,215.78 547.03,215.09 548.65,214.31 550.28,213.44 551.90,212.48 553.52,211.42 555.15,210.26 556.77,209.00 558.39,207.63 560.02,206.15 561.64,204.56 563.27,202.86 564.89,201.05 566.51,199.13 568.14,197.11 569.76,194.98 571.38,192.75 573.01,190.42 574.63,187.99 576.26,185.47 577.88,182.87 579.50,180.18 581.13,177.42 582.75,174.58 584.38,171.68 586.00,168.73 587.62,165.72 589.25,162.67 590.87,159.58 592.49,156.45 594.12,153.31 595.74,150.14 597.37,146.96 598.99,143.78 600.61,140.60 602.24,137.42 603.86,134.26 605.48,131.12 607.11,128.00 608.73,124.90 610.36,121.85 611.98,118.83 613.60,115.85 615.23,112.92 616.85,110.04 618.47,107.22 620.10,104.45 621.72,101.74 623.35,99.09 624.97,96.51 626.59,93.98 628.22,91.53 629.84,89.15 631.46,86.83 633.09,84.58 634.71,82.40 636.34,80.30 637.96,78.26 639.58,76.29 641.21,74.39 642.83,72.57 644.45,70.81 646.08,69.11 647.70,67.49 649.33,65.92 650.95,64.43 652.57,62.99 654.20,61.62 655.82,60.31 657.44,59.05 659.07,57.85 660.69,56.71 662.32,55.62 663.94,54.58 665.56,53.59 667.19,52.65 668.81,51.76 670.43,50.92 672.06,50.11 673.68,49.35 675.31,48.63 676.93,47.94 678.55,47.30 680.18,46.68 681.80,46.11 683.42,45.56 685.05,45.05 686.67,44.56 688.30,44.10 689.92,43.67 691.54,43.26 693.17,42.88 694.79,42.52 696.41,42.19 698.04,41.87 699.66,41.57 701.29,41.29 702.91,41.03 704.53,40.79 706.16,40.56 707.78,40.34 709.40,40.14 711.03,39.95 712.65,39.77 714.28,39.61 715.90,39.46 717.52,39.31 719.15,39.18 720.77,39.05 722.39,38.94 724.02,38.83 725.64,38.73 727.26,38.64 728.89,38.55 730.51,38.47 732.14,38.39 733.76,38.32 735.38,38.25 737.01,38.19 738.63,38.14 740.25,38.09 741.88,38.04 743.50,37.99 745.13,37.95 746.75,37.91 748.37,37.88 750.00,37.84 751.62,37.81 753.25,37.78 754.87,37.76 756.49,37.73 758.12,37.71 759.74,37.69 761.36,37.67 762.99,37.65 764.61,37.64 766.24,37.62 767.86,37.61 769.48,37.60 771.11,37.58 772.73,37.57 774.35,37.56 775.98,37.55 777.60,37.55 779.23,37.54 780.85,37.53 782.47,37.52 784.10,37.52 785.72,37.51 787.34,37.51 788.97,37.50 790.59,37.50 792.22,37.49 793.84,37.49 795.46,37.49 797.09,37.48 798.71,37.48 800.33,37.48 801.96,37.48 803.58,37.47 805.21,37.47 806.83,37.47 808.45,37.47 810.08,37.47 811.70,37.46"/><polyline transform="translate(0.45,0)" points="486.95,219.65 488.57,219.65 490.20,219.65 491.82,219.65 493.44,219.65 495.07,219.65 496.69,219.65 498.32,219.65 499.94,219.65 501.56,219.65 503.19,219.65 504.81,219.65 506.44,219.65 508.06,219.65 509.68,219.65 511.31,219.64 512.93,219.64 514.55,219.63 516.18,219.62 517.80,219.61 519.42,219.59 521.05,219.56 522.67,219.52 524.30,219.47 525.92,219.40 527.54,219.31 529.17,219.20 530.79,219.07 532.41,218.90 534.04,218.69 535.66,218.45 537.29,218.15 538.91,217.80 540.53,217.40 542.16,216.93 543.78,216.39 545.40,215.78 547.03,215.09 548.65,214.31 550.28,213.44 551.90,212.48 553.52,211.42 555.15,210.26 556.77,209.00 558.39,207.63 560.02,206.15 561.64,204.56 563.27,202.86 564.89,201.05 566.51,199.13 568.14,197.11 569.76,194.98 571.38,192.75 573.01,190.42 574.63,187.99 576.26,185.47 577.88,182.87 579.50,180.18 581.13,177.42 582.75,174.58 584.38,171.68 586.00,168.73 587.62,165.72 589.25,162.67 590.87,159.58 592.49,156.45 594.12,153.31 595.74,150.14 597.37,146.96 598.99,143.78 600.61,140.60 602.24,137.42 603.86,134.26 605.48,131.12 607.11,128.00 608.73,124.90 610.36,121.85 611.98,118.83 613.60,115.85 615.23,112.92 616.85,110.04 618.47,107.22 620.10,104.45 621.72,101.74 623.35,99.09 624.97,96.51 626.59,93.98 628.22,91.53 629.84,89.15 631.46,86.83 633.09,84.58 634.71,82.40 636.34,80.30 637.96,78.26 639.58,76.29 641.21,74.39 642.83,72.57 644.45,70.81 646.08,69.11 647.70,67.49 649.33,65.92 650.95,64.43 652.57,62.99 654.20,61.62 655.82,60.31 657.44,59.05 659.07,57.85 660.69,56.71 662.32,55.62 663.94,54.58 665.56,53.59 667.19,52.65 668.81,51.76 670.43,50.92 672.06,50.11 673.68,49.35 675.31,48.63 676.93,47.94 678.55,47.30 680.18,46.68 681.80,46.11 683.42,45.56 685.05,45.05 686.67,44.56 688.30,44.10 689.92,43.67 691.54,43.26 693.17,42.88 694.79,42.52 696.41,42.19 698.04,41.87 699.66,41.57 701.29,41.29 702.91,41.03 704.53,40.79 706.16,40.56 707.78,40.34 709.40,40.14 711.03,39.95 712.65,39.77 714.28,39.61 715.90,39.46 717.52,39.31 719.15,39.18 720.77,39.05 722.39,38.94 724.02,38.83 725.64,38.73 727.26,38.64 728.89,38.55 730.51,38.47 732.14,38.39 733.76,38.32 735.38,38.25 737.01,38.19 738.63,38.14 740.25,38.09 741.88,38.04 743.50,37.99 745.13,37.95 746.75,37.91 748.37,37.88 750.00,37.84 751.62,37.81 753.25,37.78 754.87,37.76 756.49,37.73 758.12,37.71 759.74,37.69 761.36,37.67 762.99,37.65 764.61,37.64 766.24,37.62 767.86,37.61 769.48,37.60 771.11,37.58 772.73,37.57 774.35,37.56 775.98,37.55 777.60,37.55 779.23,37.54 780.85,37.53 782.47,37.52 784.10,37.52 785.72,37.51 787.34,37.51 788.97,37.50 790.59,37.50 792.22,37.49 793.84,37.49 795.46,37.49 797.09,37.48 798.71,37.48 800.33,37.48 801.96,37.48 803.58,37.47 805.21,37.47 806.83,37.47 808.45,37.47 810.08,37.47 811.70,37.46"/></g>
<g fill="#bf5e28"><circle cx="543.4" cy="217.0" r="4.0"/><circle cx="547.1" cy="215.8" r="4.0"/><circle cx="550.2" cy="214.4" r="4.0"/><circle cx="552.5" cy="212.0" r="4.0"/><circle cx="556.6" cy="209.3" r="4.0"/><circle cx="562.8" cy="202.3" r="4.0"/><circle cx="567.3" cy="198.8" r="4.0"/><circle cx="569.2" cy="197.4" r="4.0"/><circle cx="570.9" cy="195.9" r="4.0"/><circle cx="575.3" cy="187.1" r="4.0"/><circle cx="579.0" cy="180.0" r="4.0"/><circle cx="588.7" cy="164.0" r="4.0"/><circle cx="598.1" cy="140.3" r="4.0"/><circle cx="608.4" cy="123.3" r="4.0"/><circle cx="620.4" cy="103.6" r="4.0"/><circle cx="630.9" cy="86.9" r="4.0"/><circle cx="646.8" cy="67.8" r="4.0"/><circle cx="670.9" cy="50.6" r="4.0"/><circle cx="718.5" cy="40.1" r="4.0"/><circle cx="746.5" cy="37.4" r="4.0"/><circle cx="768.1" cy="37.1" r="4.0"/><circle cx="797.5" cy="37.0" r="4.0"/><circle cx="808.1" cy="37.5" r="4.0"/><circle cx="557.4" cy="212.4" r="4.0"/></g>
<g fill="none" stroke="#843c58" stroke-width="2.1" stroke-linejoin="round"><polyline transform="translate(-0.45,0)" points="486.95,219.65 488.57,219.65 490.20,219.65 491.82,219.65 493.44,219.65 495.07,219.65 496.69,219.65 498.32,219.65 499.94,219.65 501.56,219.65 503.19,219.65 504.81,219.65 506.44,219.65 508.06,219.65 509.68,219.65 511.31,219.65 512.93,219.65 514.55,219.65 516.18,219.65 517.80,219.65 519.42,219.65 521.05,219.65 522.67,219.65 524.30,219.65 525.92,219.65 527.54,219.65 529.17,219.65 530.79,219.65 532.41,219.65 534.04,219.65 535.66,219.65 537.29,219.65 538.91,219.65 540.53,219.65 542.16,219.65 543.78,219.65 545.40,219.65 547.03,219.65 548.65,219.65 550.28,219.65 551.90,219.65 553.52,219.65 555.15,219.65 556.77,219.65 558.39,219.65 560.02,219.65 561.64,219.65 563.27,219.65 564.89,219.65 566.51,219.65 568.14,219.65 569.76,219.65 571.38,219.64 573.01,219.64 574.63,219.64 576.26,219.64 577.88,219.63 579.50,219.63 581.13,219.63 582.75,219.62 584.38,219.61 586.00,219.61 587.62,219.60 589.25,219.58 590.87,219.57 592.49,219.55 594.12,219.54 595.74,219.51 597.37,219.49 598.99,219.46 600.61,219.42 602.24,219.38 603.86,219.34 605.48,219.29 607.11,219.23 608.73,219.17 610.36,219.09 611.98,219.01 613.60,218.92 615.23,218.82 616.85,218.70 618.47,218.57 620.10,218.43 621.72,218.27 623.35,218.10 624.97,217.91 626.59,217.71 628.22,217.48 629.84,217.23 631.46,216.97 633.09,216.68 634.71,216.36 636.34,216.02 637.96,215.65 639.58,215.26 641.21,214.83 642.83,214.38 644.45,213.90 646.08,213.38 647.70,212.83 649.33,212.24 650.95,211.62 652.57,210.96 654.20,210.27 655.82,209.53 657.44,208.76 659.07,207.94 660.69,207.09 662.32,206.19 663.94,205.26 665.56,204.28 667.19,203.25 668.81,202.19 670.43,201.08 672.06,199.93 673.68,198.73 675.31,197.49 676.93,196.21 678.55,194.89 680.18,193.52 681.80,192.11 683.42,190.66 685.05,189.17 686.67,187.64 688.30,186.08 689.92,184.47 691.54,182.83 693.17,181.15 694.79,179.43 696.41,177.69 698.04,175.91 699.66,174.09 701.29,172.25 702.91,170.39 704.53,168.49 706.16,166.57 707.78,164.63 709.40,162.67 711.03,160.68 712.65,158.68 714.28,156.67 715.90,154.63 717.52,152.59 719.15,150.53 720.77,148.47 722.39,146.40 724.02,144.32 725.64,142.24 727.26,140.15 728.89,138.07 730.51,135.99 732.14,133.91 733.76,131.83 735.38,129.76 737.01,127.70 738.63,125.65 740.25,123.61 741.88,121.59 743.50,119.58 745.13,117.58 746.75,115.60 748.37,113.63 750.00,111.69 751.62,109.77 753.25,107.87 754.87,105.99 756.49,104.13 758.12,102.30 759.74,100.49 761.36,98.71 762.99,96.96 764.61,95.23 766.24,93.53 767.86,91.86 769.48,90.22 771.11,88.61 772.73,87.03 774.35,85.48 775.98,83.96 777.60,82.47 779.23,81.02 780.85,79.59 782.47,78.20 784.10,76.83 785.72,75.50 787.34,74.20 788.97,72.94 790.59,71.70 792.22,70.49 793.84,69.32 795.46,68.17 797.09,67.06 798.71,65.98 800.33,64.92 801.96,63.90 803.58,62.91 805.21,61.94 806.83,61.00 808.45,60.09 810.08,59.21 811.70,58.36"/><polyline transform="translate(0.45,0)" points="486.95,219.65 488.57,219.65 490.20,219.65 491.82,219.65 493.44,219.65 495.07,219.65 496.69,219.65 498.32,219.65 499.94,219.65 501.56,219.65 503.19,219.65 504.81,219.65 506.44,219.65 508.06,219.65 509.68,219.65 511.31,219.65 512.93,219.65 514.55,219.65 516.18,219.65 517.80,219.65 519.42,219.65 521.05,219.65 522.67,219.65 524.30,219.65 525.92,219.65 527.54,219.65 529.17,219.65 530.79,219.65 532.41,219.65 534.04,219.65 535.66,219.65 537.29,219.65 538.91,219.65 540.53,219.65 542.16,219.65 543.78,219.65 545.40,219.65 547.03,219.65 548.65,219.65 550.28,219.65 551.90,219.65 553.52,219.65 555.15,219.65 556.77,219.65 558.39,219.65 560.02,219.65 561.64,219.65 563.27,219.65 564.89,219.65 566.51,219.65 568.14,219.65 569.76,219.65 571.38,219.64 573.01,219.64 574.63,219.64 576.26,219.64 577.88,219.63 579.50,219.63 581.13,219.63 582.75,219.62 584.38,219.61 586.00,219.61 587.62,219.60 589.25,219.58 590.87,219.57 592.49,219.55 594.12,219.54 595.74,219.51 597.37,219.49 598.99,219.46 600.61,219.42 602.24,219.38 603.86,219.34 605.48,219.29 607.11,219.23 608.73,219.17 610.36,219.09 611.98,219.01 613.60,218.92 615.23,218.82 616.85,218.70 618.47,218.57 620.10,218.43 621.72,218.27 623.35,218.10 624.97,217.91 626.59,217.71 628.22,217.48 629.84,217.23 631.46,216.97 633.09,216.68 634.71,216.36 636.34,216.02 637.96,215.65 639.58,215.26 641.21,214.83 642.83,214.38 644.45,213.90 646.08,213.38 647.70,212.83 649.33,212.24 650.95,211.62 652.57,210.96 654.20,210.27 655.82,209.53 657.44,208.76 659.07,207.94 660.69,207.09 662.32,206.19 663.94,205.26 665.56,204.28 667.19,203.25 668.81,202.19 670.43,201.08 672.06,199.93 673.68,198.73 675.31,197.49 676.93,196.21 678.55,194.89 680.18,193.52 681.80,192.11 683.42,190.66 685.05,189.17 686.67,187.64 688.30,186.08 689.92,184.47 691.54,182.83 693.17,181.15 694.79,179.43 696.41,177.69 698.04,175.91 699.66,174.09 701.29,172.25 702.91,170.39 704.53,168.49 706.16,166.57 707.78,164.63 709.40,162.67 711.03,160.68 712.65,158.68 714.28,156.67 715.90,154.63 717.52,152.59 719.15,150.53 720.77,148.47 722.39,146.40 724.02,144.32 725.64,142.24 727.26,140.15 728.89,138.07 730.51,135.99 732.14,133.91 733.76,131.83 735.38,129.76 737.01,127.70 738.63,125.65 740.25,123.61 741.88,121.59 743.50,119.58 745.13,117.58 746.75,115.60 748.37,113.63 750.00,111.69 751.62,109.77 753.25,107.87 754.87,105.99 756.49,104.13 758.12,102.30 759.74,100.49 761.36,98.71 762.99,96.96 764.61,95.23 766.24,93.53 767.86,91.86 769.48,90.22 771.11,88.61 772.73,87.03 774.35,85.48 775.98,83.96 777.60,82.47 779.23,81.02 780.85,79.59 782.47,78.20 784.10,76.83 785.72,75.50 787.34,74.20 788.97,72.94 790.59,71.70 792.22,70.49 793.84,69.32 795.46,68.17 797.09,67.06 798.71,65.98 800.33,64.92 801.96,63.90 803.58,62.91 805.21,61.94 806.83,61.00 808.45,60.09 810.08,59.21 811.70,58.36"/></g>
<g fill="#843c58"><circle cx="543.5" cy="219.6" r="4.0"/><circle cx="547.1" cy="219.6" r="4.0"/><circle cx="550.2" cy="219.6" r="4.0"/><circle cx="552.4" cy="219.6" r="4.0"/><circle cx="556.7" cy="219.6" r="4.0"/><circle cx="562.4" cy="219.6" r="4.0"/><circle cx="567.1" cy="219.6" r="4.0"/><circle cx="569.4" cy="219.6" r="4.0"/><circle cx="571.1" cy="219.6" r="4.0"/><circle cx="574.6" cy="219.6" r="4.0"/><circle cx="578.8" cy="219.6" r="4.0"/><circle cx="588.7" cy="219.6" r="4.0"/><circle cx="598.3" cy="219.5" r="4.0"/><circle cx="608.4" cy="219.2" r="4.0"/><circle cx="620.1" cy="218.4" r="4.0"/><circle cx="630.9" cy="216.1" r="4.0"/><circle cx="646.8" cy="212.5" r="4.0"/><circle cx="670.9" cy="199.9" r="4.0"/><circle cx="718.4" cy="145.6" r="4.0"/><circle cx="746.7" cy="111.0" r="4.0"/><circle cx="768.3" cy="87.0" r="4.0"/><circle cx="797.4" cy="62.8" r="4.0"/><circle cx="807.7" cy="56.5" r="4.0"/><circle cx="557.4" cy="219.6" r="4.0"/></g>
<g fill="none" stroke="#3f1d8a" stroke-width="2.1" stroke-linejoin="round"><polyline transform="translate(-0.45,0)" points="486.95,219.65 488.57,219.65 490.20,219.65 491.82,219.65 493.44,219.65 495.07,219.65 496.69,219.65 498.32,219.65 499.94,219.65 501.56,219.65 503.19,219.65 504.81,219.65 506.44,219.65 508.06,219.65 509.68,219.65 511.31,219.65 512.93,219.65 514.55,219.65 516.18,219.65 517.80,219.65 519.42,219.65 521.05,219.65 522.67,219.65 524.30,219.65 525.92,219.65 527.54,219.65 529.17,219.65 530.79,219.65 532.41,219.65 534.04,219.65 535.66,219.65 537.29,219.65 538.91,219.65 540.53,219.65 542.16,219.65 543.78,219.65 545.40,219.65 547.03,219.65 548.65,219.65 550.28,219.65 551.90,219.65 553.52,219.65 555.15,219.65 556.77,219.65 558.39,219.65 560.02,219.65 561.64,219.65 563.27,219.65 564.89,219.65 566.51,219.65 568.14,219.65 569.76,219.65 571.38,219.65 573.01,219.65 574.63,219.65 576.26,219.65 577.88,219.65 579.50,219.65 581.13,219.65 582.75,219.65 584.38,219.65 586.00,219.65 587.62,219.65 589.25,219.65 590.87,219.65 592.49,219.65 594.12,219.65 595.74,219.65 597.37,219.65 598.99,219.65 600.61,219.65 602.24,219.65 603.86,219.65 605.48,219.65 607.11,219.65 608.73,219.65 610.36,219.65 611.98,219.65 613.60,219.65 615.23,219.65 616.85,219.65 618.47,219.65 620.10,219.65 621.72,219.65 623.35,219.65 624.97,219.65 626.59,219.65 628.22,219.65 629.84,219.65 631.46,219.65 633.09,219.65 634.71,219.65 636.34,219.65 637.96,219.65 639.58,219.65 641.21,219.65 642.83,219.65 644.45,219.65 646.08,219.65 647.70,219.65 649.33,219.65 650.95,219.64 652.57,219.64 654.20,219.64 655.82,219.64 657.44,219.64 659.07,219.64 660.69,219.63 662.32,219.63 663.94,219.63 665.56,219.62 667.19,219.62 668.81,219.62 670.43,219.61 672.06,219.60 673.68,219.60 675.31,219.59 676.93,219.58 678.55,219.57 680.18,219.56 681.80,219.55 683.42,219.53 685.05,219.52 686.67,219.50 688.30,219.48 689.92,219.46 691.54,219.44 693.17,219.41 694.79,219.38 696.41,219.35 698.04,219.31 699.66,219.27 701.29,219.23 702.91,219.18 704.53,219.13 706.16,219.08 707.78,219.02 709.40,218.95 711.03,218.88 712.65,218.80 714.28,218.71 715.90,218.62 717.52,218.52 719.15,218.41 720.77,218.30 722.39,218.17 724.02,218.04 725.64,217.89 727.26,217.74 728.89,217.57 730.51,217.39 732.14,217.21 733.76,217.00 735.38,216.79 737.01,216.56 738.63,216.32 740.25,216.06 741.88,215.79 743.50,215.50 745.13,215.19 746.75,214.87 748.37,214.53 750.00,214.17 751.62,213.79 753.25,213.39 754.87,212.97 756.49,212.53 758.12,212.07 759.74,211.59 761.36,211.09 762.99,210.56 764.61,210.01 766.24,209.43 767.86,208.84 769.48,208.21 771.11,207.57 772.73,206.89 774.35,206.19 775.98,205.47 777.60,204.72 779.23,203.94 780.85,203.13 782.47,202.30 784.10,201.44 785.72,200.55 787.34,199.64 788.97,198.70 790.59,197.73 792.22,196.73 793.84,195.71 795.46,194.66 797.09,193.58 798.71,192.48 800.33,191.35 801.96,190.19 803.58,189.00 805.21,187.79 806.83,186.56 808.45,185.29 810.08,184.01 811.70,182.70"/><polyline transform="translate(0.45,0)" points="486.95,219.65 488.57,219.65 490.20,219.65 491.82,219.65 493.44,219.65 495.07,219.65 496.69,219.65 498.32,219.65 499.94,219.65 501.56,219.65 503.19,219.65 504.81,219.65 506.44,219.65 508.06,219.65 509.68,219.65 511.31,219.65 512.93,219.65 514.55,219.65 516.18,219.65 517.80,219.65 519.42,219.65 521.05,219.65 522.67,219.65 524.30,219.65 525.92,219.65 527.54,219.65 529.17,219.65 530.79,219.65 532.41,219.65 534.04,219.65 535.66,219.65 537.29,219.65 538.91,219.65 540.53,219.65 542.16,219.65 543.78,219.65 545.40,219.65 547.03,219.65 548.65,219.65 550.28,219.65 551.90,219.65 553.52,219.65 555.15,219.65 556.77,219.65 558.39,219.65 560.02,219.65 561.64,219.65 563.27,219.65 564.89,219.65 566.51,219.65 568.14,219.65 569.76,219.65 571.38,219.65 573.01,219.65 574.63,219.65 576.26,219.65 577.88,219.65 579.50,219.65 581.13,219.65 582.75,219.65 584.38,219.65 586.00,219.65 587.62,219.65 589.25,219.65 590.87,219.65 592.49,219.65 594.12,219.65 595.74,219.65 597.37,219.65 598.99,219.65 600.61,219.65 602.24,219.65 603.86,219.65 605.48,219.65 607.11,219.65 608.73,219.65 610.36,219.65 611.98,219.65 613.60,219.65 615.23,219.65 616.85,219.65 618.47,219.65 620.10,219.65 621.72,219.65 623.35,219.65 624.97,219.65 626.59,219.65 628.22,219.65 629.84,219.65 631.46,219.65 633.09,219.65 634.71,219.65 636.34,219.65 637.96,219.65 639.58,219.65 641.21,219.65 642.83,219.65 644.45,219.65 646.08,219.65 647.70,219.65 649.33,219.65 650.95,219.64 652.57,219.64 654.20,219.64 655.82,219.64 657.44,219.64 659.07,219.64 660.69,219.63 662.32,219.63 663.94,219.63 665.56,219.62 667.19,219.62 668.81,219.62 670.43,219.61 672.06,219.60 673.68,219.60 675.31,219.59 676.93,219.58 678.55,219.57 680.18,219.56 681.80,219.55 683.42,219.53 685.05,219.52 686.67,219.50 688.30,219.48 689.92,219.46 691.54,219.44 693.17,219.41 694.79,219.38 696.41,219.35 698.04,219.31 699.66,219.27 701.29,219.23 702.91,219.18 704.53,219.13 706.16,219.08 707.78,219.02 709.40,218.95 711.03,218.88 712.65,218.80 714.28,218.71 715.90,218.62 717.52,218.52 719.15,218.41 720.77,218.30 722.39,218.17 724.02,218.04 725.64,217.89 727.26,217.74 728.89,217.57 730.51,217.39 732.14,217.21 733.76,217.00 735.38,216.79 737.01,216.56 738.63,216.32 740.25,216.06 741.88,215.79 743.50,215.50 745.13,215.19 746.75,214.87 748.37,214.53 750.00,214.17 751.62,213.79 753.25,213.39 754.87,212.97 756.49,212.53 758.12,212.07 759.74,211.59 761.36,211.09 762.99,210.56 764.61,210.01 766.24,209.43 767.86,208.84 769.48,208.21 771.11,207.57 772.73,206.89 774.35,206.19 775.98,205.47 777.60,204.72 779.23,203.94 780.85,203.13 782.47,202.30 784.10,201.44 785.72,200.55 787.34,199.64 788.97,198.70 790.59,197.73 792.22,196.73 793.84,195.71 795.46,194.66 797.09,193.58 798.71,192.48 800.33,191.35 801.96,190.19 803.58,189.00 805.21,187.79 806.83,186.56 808.45,185.29 810.08,184.01 811.70,182.70"/></g>
<g fill="#3f1d8a"><circle cx="543.5" cy="219.6" r="4.0"/><circle cx="547.1" cy="219.6" r="4.0"/><circle cx="550.2" cy="219.6" r="4.0"/><circle cx="552.4" cy="219.6" r="4.0"/><circle cx="556.7" cy="219.6" r="4.0"/><circle cx="562.4" cy="219.6" r="4.0"/><circle cx="567.1" cy="219.6" r="4.0"/><circle cx="569.4" cy="219.6" r="4.0"/><circle cx="571.1" cy="219.6" r="4.0"/><circle cx="574.6" cy="219.6" r="4.0"/><circle cx="578.8" cy="219.6" r="4.0"/><circle cx="588.7" cy="219.6" r="4.0"/><circle cx="598.3" cy="219.6" r="4.0"/><circle cx="608.4" cy="219.6" r="4.0"/><circle cx="620.1" cy="219.6" r="4.0"/><circle cx="630.7" cy="219.6" r="4.0"/><circle cx="647.1" cy="219.6" r="4.0"/><circle cx="670.8" cy="219.6" r="4.0"/><circle cx="718.5" cy="217.9" r="4.0"/><circle cx="746.5" cy="216.8" r="4.0"/><circle cx="767.7" cy="210.2" r="4.0"/><circle cx="797.6" cy="196.8" r="4.0"/><circle cx="807.8" cy="186.3" r="4.0"/><circle cx="557.4" cy="219.6" r="4.0"/></g>
</g>
<path d="M551.90 228.4v-13.0M551.90 28.45v13.0M616.85 228.4v-13.0M616.85 28.45v13.0M681.80 228.4v-13.0M681.80 28.45v13.0M746.75 228.4v-13.0M746.75 28.45v13.0M486.95 219.65h13.0M811.7 219.65h-13.0M486.95 128.55h13.0M811.7 128.55h-13.0M486.95 37.45h13.0M811.7 37.45h-13.0" stroke="#000" stroke-width="1.45" fill="none"/>
<rect x="486.95" y="28.45" width="324.75" height="199.95" fill="none" stroke="#000" stroke-width="1.6"/>
<text class="t" x="487.05" y="245.6" text-anchor="middle">0</text>
<text class="t" x="552.00" y="245.6" text-anchor="middle">5</text>
<text class="t" x="616.95" y="245.6" text-anchor="middle">10</text>
<text class="t" x="681.90" y="245.6" text-anchor="middle">15</text>
<text class="t" x="746.85" y="245.6" text-anchor="middle">20</text>
<text class="t" x="811.80" y="245.6" text-anchor="middle">25</text>
<text class="t" x="484.0" y="225.70" text-anchor="end">0.0</text>
<text class="t" x="484.0" y="134.60" text-anchor="end">0.5</text>
<text class="t" x="484.0" y="43.50" text-anchor="end">1.0</text>
<path d="M642.62 257.3l-3.6 9 3.6 9.1M656.12 257.3l3.6 9 -3.6 9.1" stroke="#000" stroke-width="0.8" fill="none" stroke-linejoin="miter"/>
<text class="t i" font-size="16.8" transform="translate(644.33,270.7) scale(1.25,1)">n</text>
<g transform="translate(440.95,164.1) rotate(-90)"><text class="t i" font-size="19.6" transform="translate(-0.4,0) scale(1.13,1)">P</text><text class="t" font-size="18.6" x="17.2" y="0">(</text><text class="t i" font-size="16.8" transform="translate(23.5,0) scale(1.25,1)">n</text><path d="M40.0 -11.9L51.0 -7.2L40.0 -2.6M40.0 2.4H51.0" stroke="#000" stroke-width="0.8" fill="none"/><text class="t i" font-size="17.8" transform="translate(57.2,0) scale(1.16,1)">r</text><text class="t" font-size="18.6" x="65.7" y="0">)</text></g>
<path d="M200.1 10.5h35.8" stroke="#ff8207" stroke-width="1.6"/>
<circle cx="218.1" cy="10.5" r="4.4" fill="#ff8207"/>
<text class="t i" font-size="17.8" transform="translate(243.00,16.5) scale(1.16,1)">r</text>
<path d="M257.40 9.75h12.4M257.40 13.40h12.4" stroke="#000" stroke-width="0.75" fill="none"/>
<text class="t" x="275.60" y="16.7">6</text>
<path d="M308.0 10.5h35.8" stroke="#bf5e28" stroke-width="1.6"/>
<circle cx="326.0" cy="10.5" r="4.4" fill="#bf5e28"/>
<text class="t i" font-size="17.8" transform="translate(352.20,16.5) scale(1.16,1)">r</text>
<path d="M366.60 9.75h12.4M366.60 13.40h12.4" stroke="#000" stroke-width="0.75" fill="none"/>
<text class="t" x="384.80" y="16.7">10</text>
<path d="M426.0 10.5h35.8" stroke="#843c58" stroke-width="1.6"/>
<circle cx="444.0" cy="10.5" r="4.4" fill="#843c58"/>
<text class="t i" font-size="17.8" transform="translate(467.50,16.5) scale(1.16,1)">r</text>
<path d="M481.90 9.75h12.4M481.90 13.40h12.4" stroke="#000" stroke-width="0.75" fill="none"/>
<text class="t" x="500.10" y="16.7">20</text>
<path d="M541.7 10.5h35.8" stroke="#3f1d8a" stroke-width="1.6"/>
<circle cx="559.7" cy="10.5" r="4.4" fill="#3f1d8a"/>
<text class="t i" font-size="17.8" transform="translate(582.40,16.5) scale(1.16,1)">r</text>
<path d="M596.80 9.75h12.4M596.80 13.40h12.4" stroke="#000" stroke-width="0.75" fill="none"/>
<text class="t" x="615.00" y="16.7">30</text>
</svg>
</body></html>
